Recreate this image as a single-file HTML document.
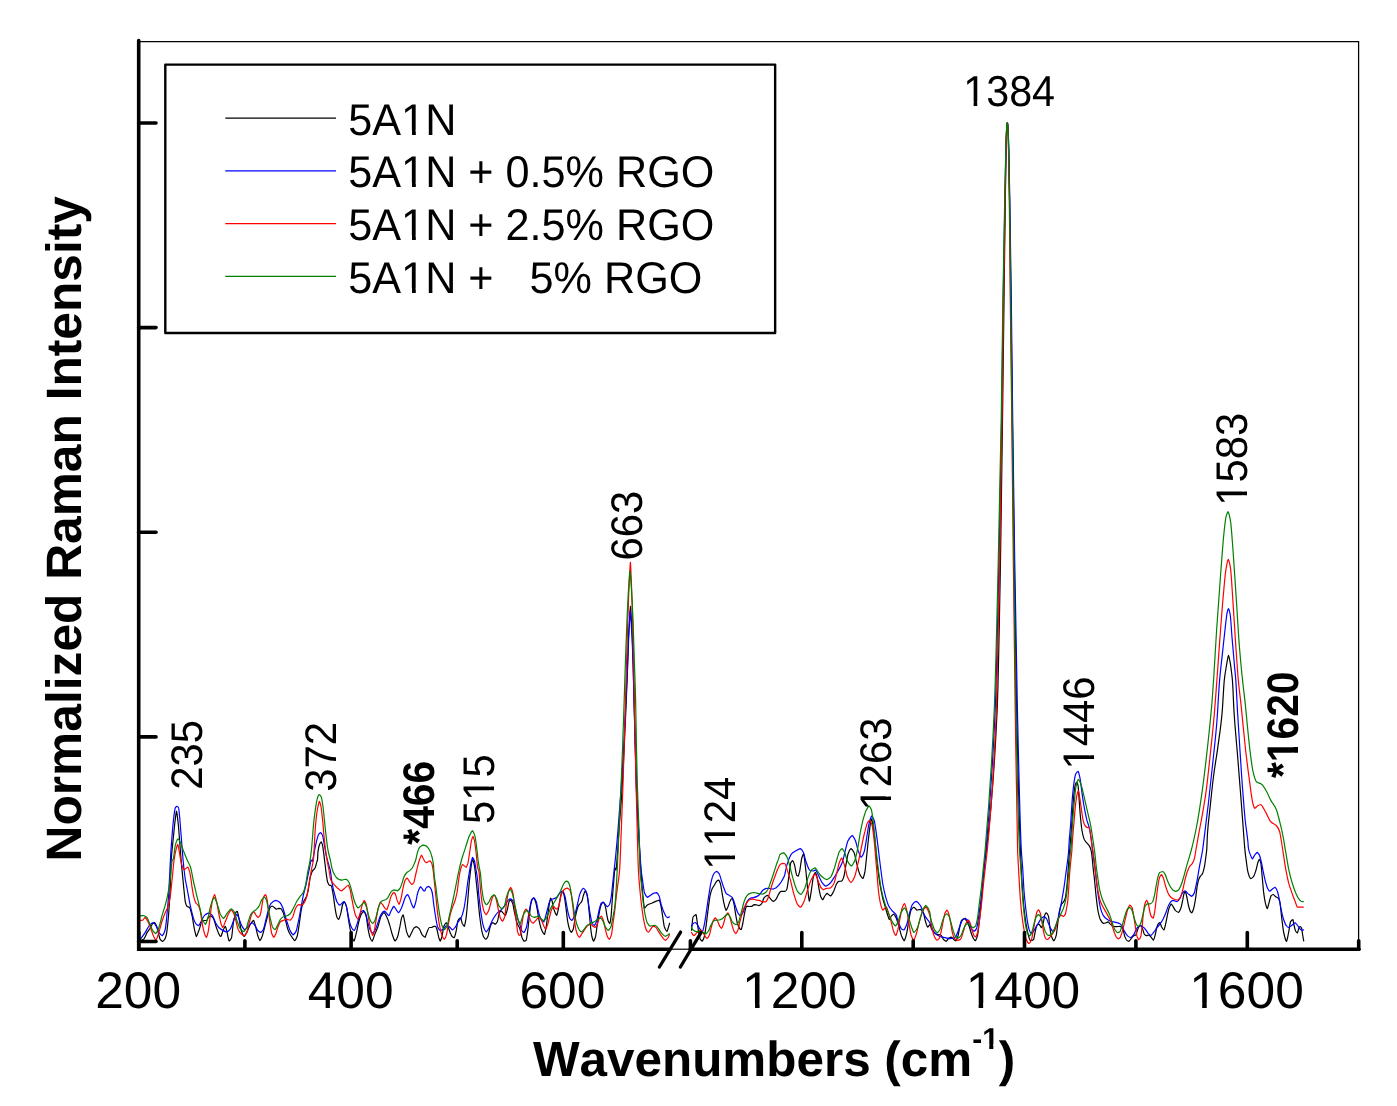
<!DOCTYPE html>
<html><head><meta charset="utf-8"><title>Raman spectra</title><style>html,body{margin:0;padding:0;background:#fff}body{width:1397px;height:1106px;position:relative;overflow:hidden}text{font-kerning:none;text-rendering:geometricPrecision}</style></head><body>
<svg width="1397" height="1106" viewBox="0 0 1397 1106" style="position:absolute;left:0;top:0">
<rect width="1397" height="1106" fill="#fff"/>
<defs><clipPath id="c_leg0"><path clip-rule="evenodd" d="M-3000,-3000H6000V3000H-3000ZM55.29,-4.53H63.70V3.00H55.29ZM67.52,-4.53H75.60V3.00H67.52Z"/></clipPath><clipPath id="c_leg1"><path clip-rule="evenodd" d="M-3000,-3000H6000V3000H-3000ZM55.29,-4.53H63.70V3.00H55.29ZM67.52,-4.53H75.60V3.00H67.52Z"/></clipPath><clipPath id="c_leg2"><path clip-rule="evenodd" d="M-3000,-3000H6000V3000H-3000ZM55.29,-4.53H63.70V3.00H55.29ZM67.52,-4.53H75.60V3.00H67.52Z"/></clipPath><clipPath id="c_leg3"><path clip-rule="evenodd" d="M-3000,-3000H6000V3000H-3000ZM55.29,-4.53H63.70V3.00H55.29ZM67.52,-4.53H75.60V3.00H67.52Z"/></clipPath><clipPath id="c_tick1200"><path clip-rule="evenodd" d="M-3000,-3000H6000V3000H-3000ZM-54.37,-5.15H-44.33V3.00H-54.37ZM-39.78,-5.15H-30.15V3.00H-39.78Z"/></clipPath><clipPath id="c_tick1400"><path clip-rule="evenodd" d="M-3000,-3000H6000V3000H-3000ZM-54.37,-5.15H-44.33V3.00H-54.37ZM-39.78,-5.15H-30.15V3.00H-39.78Z"/></clipPath><clipPath id="c_tick1600"><path clip-rule="evenodd" d="M-3000,-3000H6000V3000H-3000ZM-54.37,-5.15H-44.33V3.00H-54.37ZM-39.78,-5.15H-30.15V3.00H-39.78Z"/></clipPath><clipPath id="c_xtitle"><path clip-rule="evenodd" d="M-3000,-3000H6000V3000H-3000ZM450.54,-31.76H456.24V-24.40H450.54ZM460.35,-31.76H465.67V-24.40H460.35Z"/></clipPath><clipPath id="c_lab515"><path clip-rule="evenodd" d="M-3000,-3000H6000V3000H-3000ZM25.61,-4.42H33.76V3.00H25.61ZM37.45,-4.42H45.27V3.00H37.45Z"/></clipPath><clipPath id="c_lab1124"><path clip-rule="evenodd" d="M-3000,-3000H6000V3000H-3000ZM2.37,-4.42H10.51V3.00H2.37ZM14.21,-4.42H22.02V3.00H14.21ZM25.61,-4.42H33.76V3.00H25.61ZM37.45,-4.42H45.27V3.00H37.45Z"/></clipPath><clipPath id="c_lab1263"><path clip-rule="evenodd" d="M-3000,-3000H6000V3000H-3000ZM2.37,-4.42H10.51V3.00H2.37ZM14.21,-4.42H22.02V3.00H14.21Z"/></clipPath><clipPath id="c_lab1446"><path clip-rule="evenodd" d="M-3000,-3000H6000V3000H-3000ZM2.37,-4.42H10.51V3.00H2.37ZM14.21,-4.42H22.02V3.00H14.21Z"/></clipPath><clipPath id="c_lab1583"><path clip-rule="evenodd" d="M-3000,-3000H6000V3000H-3000ZM2.37,-4.42H10.51V3.00H2.37ZM14.21,-4.42H22.02V3.00H14.21Z"/></clipPath><clipPath id="c_labs1620"><path clip-rule="evenodd" d="M-3000,-3000H6000V3000H-3000ZM18.08,-5.57H26.02V3.00H18.08ZM31.76,-5.57H39.17V3.00H31.76Z"/></clipPath><clipPath id="c_lab1384"><path clip-rule="evenodd" d="M-3000,-3000H6000V3000H-3000ZM2.34,-4.39H10.39V3.00H2.34ZM14.04,-4.39H21.76V3.00H14.04Z"/></clipPath></defs>
<path d="M138.7,41.5H1358.6V949.2" fill="none" stroke="#000" stroke-width="1.25"/>
<g fill="none" stroke-width="1.2" stroke-linejoin="round" stroke-linecap="butt">
<path d="M139.1,940.7C140.6,940.7 142.1,940.1 143.5,939.3C144.8,938.7 146.0,934.4 147.2,932.4C148.2,930.9 149.1,929.9 150.1,928.3C150.9,927.0 151.7,924.7 152.5,923.9C153.2,923.2 153.9,922.7 154.5,922.5C155.2,922.9 155.9,924.3 156.6,925.9C157.1,927.2 157.6,930.4 158.2,932.4C158.9,934.9 159.5,938.4 160.2,939.3C161.0,940.4 161.7,941.1 162.5,941.4C163.2,941.1 164.0,940.4 164.7,939.3C165.2,938.6 165.8,937.1 166.3,934.9C167.0,932.1 167.7,924.6 168.4,917.0C168.9,910.9 169.4,903.1 170.0,892.5C170.4,884.6 170.8,866.3 171.2,860.0C171.9,849.5 172.6,845.7 173.2,838.8C173.8,833.3 174.3,827.0 174.9,822.5C175.4,818.1 176.0,812.5 176.5,811.2C177.0,812.5 177.6,817.7 178.1,822.5C178.7,827.4 179.2,836.1 179.8,842.9C180.3,849.7 180.8,857.1 181.4,863.2C181.9,869.4 182.5,874.4 183.0,880.0C183.3,882.8 183.5,885.9 183.8,888.5C184.4,893.6 184.9,900.2 185.4,902.3C186.0,904.4 186.5,906.0 187.1,906.4C187.9,907.0 188.7,906.8 189.5,907.4C190.3,907.9 191.1,912.0 192.0,915.3C192.8,918.7 193.6,925.6 194.4,929.2C195.1,932.1 195.8,935.6 196.4,936.5C197.4,935.6 198.3,931.6 199.3,929.2C200.4,926.3 201.4,920.8 202.5,920.6C203.9,920.5 205.2,920.5 206.6,920.4C207.3,920.3 208.0,917.3 208.6,917.0C209.5,916.5 210.3,916.2 211.1,916.1C211.8,916.3 212.4,917.0 213.1,917.8C214.2,919.1 215.3,924.7 216.4,927.5C217.5,930.4 218.5,933.8 219.6,935.3C220.0,935.8 220.4,936.3 220.8,936.5C221.7,935.7 222.5,931.7 223.3,930.0C224.0,928.5 224.6,926.7 225.3,926.3C225.9,926.9 226.4,929.6 226.9,931.6C227.6,934.1 228.3,939.6 229.0,940.6C229.1,940.7 229.3,940.9 229.4,941.0C230.1,940.6 230.7,939.7 231.4,938.1C232.1,936.5 232.8,925.5 233.5,921.8C234.0,919.0 234.5,917.1 235.0,915.3C235.4,914.1 235.7,912.4 236.1,912.1C236.5,911.7 236.9,911.5 237.3,911.4C237.9,912.3 238.4,916.1 239.0,918.6C239.8,922.4 240.6,928.4 241.4,930.8C242.3,933.5 243.3,935.8 244.2,936.5C245.2,935.9 246.1,933.4 247.1,931.6C248.2,929.5 249.3,926.0 250.3,924.3C251.4,922.6 252.5,920.8 253.6,920.4C254.3,921.1 255.0,924.4 255.6,926.7C256.4,929.6 257.3,934.2 258.1,936.5C258.7,938.2 259.3,940.1 259.9,940.6C260.7,940.1 261.4,938.3 262.1,936.5C263.1,934.2 264.0,929.4 265.0,925.9C265.9,922.4 266.9,918.8 267.8,915.3C268.5,912.9 269.2,909.0 269.9,908.0C270.6,906.9 271.4,906.2 272.1,906.0C272.9,906.2 273.6,907.0 274.3,907.6C275.0,908.1 275.7,909.0 276.4,909.2C277.2,909.1 278.0,908.5 278.8,908.4C279.5,908.4 280.2,908.5 280.9,908.7C281.5,908.8 282.2,910.6 282.9,912.1C283.7,913.8 284.5,916.6 285.3,919.4C286.1,922.2 287.0,926.9 287.8,929.2C288.6,931.4 289.4,933.0 290.2,934.5C291.0,935.9 291.8,937.0 292.7,938.1C293.3,939.0 294.0,940.4 294.7,940.7C295.5,940.2 296.3,938.7 297.1,936.5C297.8,934.6 298.5,928.6 299.2,924.3C300.0,919.1 300.8,911.4 301.6,908.0C302.4,904.6 303.2,902.4 304.0,900.7C304.9,898.9 305.7,898.5 306.5,896.6C307.0,895.4 307.6,893.3 308.1,890.9C308.8,887.9 309.5,880.8 310.1,877.9C310.8,875.0 311.5,872.6 312.2,871.4C313.1,869.7 314.1,869.9 315.0,868.1C315.6,867.2 316.1,864.2 316.7,862.4C316.9,861.6 317.2,861.4 317.5,860.0C317.6,859.1 317.8,853.0 318.0,851.6C318.5,847.4 319.1,845.5 319.6,844.3C320.2,843.1 320.7,842.1 321.3,841.8C321.7,842.2 322.1,843.5 322.5,845.1C322.9,846.6 323.3,850.3 323.7,853.2C324.1,856.2 324.5,859.6 324.9,863.0C325.2,865.2 325.5,867.8 325.7,870.0C325.8,870.8 325.9,871.6 326.0,872.2C326.6,876.1 327.1,880.4 327.6,882.0C328.2,883.6 328.8,885.0 329.4,885.2C330.0,885.5 330.5,885.4 331.1,885.6C331.8,885.9 332.5,890.6 333.1,894.2C333.8,897.8 334.5,905.1 335.2,908.8C335.8,912.5 336.5,916.6 337.2,917.8C337.7,918.6 338.2,919.2 338.7,919.4C339.4,918.6 340.1,915.5 340.9,912.9C341.5,910.5 342.2,905.2 342.9,903.9C343.4,902.9 344.0,902.1 344.5,901.9C345.2,902.5 345.9,904.7 346.6,907.2C347.2,909.7 347.9,916.2 348.6,920.2C349.3,924.3 350.0,928.6 350.6,931.6C351.3,934.6 352.0,937.4 352.7,938.9C353.1,939.8 353.5,940.7 353.9,941.0C354.7,940.1 355.5,936.3 356.3,933.2C357.3,929.7 358.2,923.4 359.2,920.2C360.0,917.5 360.8,914.9 361.6,913.7C362.4,912.6 363.1,911.7 363.9,911.4C364.6,912.0 365.4,913.8 366.1,916.1C366.8,918.3 367.4,925.6 368.1,929.2C368.8,932.7 369.5,936.6 370.2,938.1C370.8,939.6 371.5,940.8 372.2,941.2C373.0,940.5 373.8,936.9 374.6,934.9C375.7,932.1 376.8,929.8 377.9,926.7C379.0,923.7 380.1,918.1 381.1,916.1C382.1,914.4 383.0,912.9 384.0,912.5C384.9,913.0 385.9,915.0 386.8,917.0C387.8,918.9 388.7,922.0 389.7,925.1C390.5,927.7 391.3,931.7 392.1,934.0C393.1,936.9 394.1,940.2 395.1,941.0C395.9,940.5 396.7,939.1 397.4,937.3C398.2,935.4 399.0,930.4 399.9,926.7C400.5,923.6 401.2,918.6 401.9,917.0C402.3,916.0 402.7,915.2 403.1,914.9C403.7,915.7 404.2,919.3 404.7,921.8C405.4,925.0 406.1,930.4 406.8,932.4C407.6,934.8 408.4,936.7 409.2,937.3C410.0,936.7 410.8,934.0 411.7,932.4C412.5,930.9 413.3,928.6 414.1,927.9C414.9,927.3 415.7,926.9 416.5,926.7C417.5,927.0 418.4,927.7 419.4,928.8C420.3,929.8 421.3,933.7 422.2,934.9C423.2,936.0 424.1,937.0 425.0,937.3C425.6,936.7 426.3,933.9 426.9,932.4C427.7,930.6 428.5,927.5 429.4,927.5C430.0,927.5 430.7,927.5 431.4,927.5C432.2,927.5 433.0,926.3 433.8,926.3C434.4,926.3 434.9,926.3 435.5,926.3C436.0,926.3 436.5,928.3 437.1,930.0C437.6,931.6 438.2,935.6 438.7,937.3C439.2,938.9 439.7,940.5 440.2,941.0C440.8,940.4 441.4,938.5 442.0,936.5C442.6,934.2 443.3,927.5 444.0,925.9C444.7,924.2 445.5,923.0 446.2,922.7C446.8,923.1 447.4,925.2 448.1,926.7C448.7,928.4 449.4,930.8 450.1,932.4C450.8,934.0 451.5,935.9 452.1,936.5C452.8,937.1 453.5,937.6 454.2,937.7C454.9,936.9 455.5,933.8 456.2,930.8C456.8,928.4 457.3,922.3 457.8,921.0C458.4,919.7 458.9,919.0 459.5,918.6C459.9,918.3 460.3,918.0 460.7,917.9C461.2,918.6 461.8,922.4 462.3,923.5C463.0,924.8 463.7,926.0 464.3,926.3C464.9,925.4 465.4,922.1 466.0,918.6C466.5,915.1 467.1,908.2 467.6,902.3C468.1,896.4 468.7,888.4 469.2,882.8C469.8,877.2 470.3,872.0 470.9,868.1C471.3,865.2 471.7,861.9 472.1,860.8C472.3,860.2 472.6,859.7 472.8,859.5C473.4,860.3 473.9,863.3 474.5,866.5C475.1,869.5 475.6,875.4 476.1,880.3C476.7,885.3 477.2,891.2 477.8,896.6C478.4,903.4 479.1,911.5 479.8,917.0C480.5,922.4 481.2,927.8 481.8,930.8C482.5,933.7 483.2,936.2 483.9,937.3C484.5,938.3 485.1,939.1 485.7,939.3C486.5,939.0 487.2,938.0 487.9,936.5C488.6,935.1 489.3,929.6 490.0,927.5C490.7,925.4 491.3,923.2 492.0,922.7C492.6,922.7 493.1,922.9 493.6,923.1C494.2,923.3 494.7,924.1 495.3,924.3C495.9,924.0 496.6,923.1 497.3,921.8C498.0,920.6 498.7,914.2 499.3,912.9C499.9,911.9 500.4,911.1 501.0,910.9C501.6,911.1 502.3,912.2 503.0,912.9C503.8,913.7 504.6,915.0 505.4,915.3C506.1,914.6 506.8,911.4 507.5,908.8C508.0,906.8 508.6,902.4 509.1,901.5C509.6,900.6 510.2,900.1 510.7,899.9C511.4,900.3 512.1,902.0 512.8,903.9C513.4,905.9 514.1,910.7 514.8,913.7C515.6,917.3 516.4,921.2 517.2,923.5C518.2,926.0 519.1,926.5 520.0,929.2C520.6,931.0 521.3,935.6 521.9,937.3C522.6,939.1 523.3,940.7 524.0,941.2C524.6,941.1 525.3,941.0 526.0,940.6C526.5,940.2 527.1,935.3 527.6,931.6C528.2,927.9 528.7,921.6 529.2,917.0C529.8,912.4 530.3,906.3 530.9,903.9C531.4,901.6 532.0,899.5 532.5,899.1C533.0,898.6 533.6,898.3 534.1,898.2C534.7,898.7 535.2,900.5 535.7,902.3C536.3,904.1 536.8,907.5 537.4,910.4C537.9,913.4 538.5,917.6 539.0,920.2C539.7,923.5 540.4,926.4 541.0,928.3C541.7,930.3 542.4,931.8 543.1,932.8C543.5,933.5 544.0,934.3 544.5,934.5C544.9,933.7 545.4,930.9 545.9,928.3C546.5,925.5 547.0,920.9 547.5,917.0C548.1,913.0 548.6,907.9 549.2,904.8C549.6,902.1 550.1,899.0 550.6,898.2C551.0,898.5 551.5,899.4 552.0,900.7C552.4,901.7 552.8,905.6 553.2,907.2C553.8,909.3 554.3,910.8 554.9,912.1C555.5,913.4 556.1,914.9 556.7,915.3C557.1,914.8 557.6,912.5 558.1,910.4C558.7,908.1 559.2,903.5 559.8,900.7C560.3,897.9 560.8,894.4 561.4,893.4C561.9,892.3 562.5,891.6 563.0,891.3C563.5,892.1 564.1,895.3 564.6,898.2C565.2,901.2 565.7,906.4 566.3,910.4C566.8,914.5 567.3,919.8 567.9,922.7C568.4,925.5 569.0,927.8 569.5,929.2C570.1,930.6 570.7,931.9 571.3,932.3C571.9,931.9 572.6,930.8 573.2,929.2C573.7,927.8 574.3,923.1 574.8,920.2C575.3,917.4 575.9,914.3 576.4,912.1C577.0,909.8 577.5,907.5 578.1,906.4C578.7,905.0 579.4,904.4 580.1,903.5C580.6,902.8 581.2,902.5 581.7,901.5C582.3,900.5 582.8,897.4 583.3,895.8C583.9,894.1 584.5,891.8 585.1,891.3C585.8,891.7 586.4,892.6 587.0,894.2C587.4,895.2 587.8,899.0 588.2,902.3C588.6,905.6 589.0,911.0 589.5,915.3C589.9,919.7 590.3,925.0 590.7,928.3C591.1,931.7 591.5,934.8 591.9,936.5C592.4,938.7 593.0,940.7 593.5,941.2C594.2,940.7 594.9,938.9 595.6,936.5C596.1,934.6 596.6,928.6 597.2,925.1C597.7,921.6 598.3,918.3 598.8,915.3C599.4,912.4 599.9,909.0 600.4,907.2C601.0,905.4 601.5,903.6 602.1,903.1C602.6,902.7 603.1,902.4 603.7,902.3C604.2,902.8 604.8,904.5 605.3,906.4C605.9,908.2 606.4,912.6 606.9,915.3C607.4,917.4 607.8,920.1 608.2,921.0C608.7,922.3 609.3,923.2 609.8,923.5C610.2,922.7 610.6,920.1 611.0,917.0C611.4,913.9 611.8,906.1 612.2,900.7C612.6,895.3 613.0,889.2 613.5,884.4C614.0,878.3 614.5,870.0 615.0,868.1C615.3,868.4 615.7,869.8 616.0,870.0C617.0,865.3 618.0,843.4 619.0,830.0C620.0,816.7 621.0,806.0 622.0,790.0C622.8,777.7 623.5,761.1 624.3,745.0C625.0,731.0 625.6,715.8 626.3,700.0C626.8,688.9 627.2,677.4 627.7,665.0C628.0,656.2 628.4,644.5 628.7,637.0C629.0,630.3 629.3,625.0 629.6,620.0C629.9,615.0 630.2,608.0 630.5,606.4C630.8,608.0 631.1,615.0 631.4,620.0C631.7,625.0 632.0,629.9 632.3,637.0C632.6,644.1 632.9,654.1 633.2,665.0C633.5,674.7 633.7,689.2 634.0,700.0C634.4,716.2 634.8,730.6 635.2,745.0C635.6,760.6 636.1,778.8 636.5,790.0C637.2,807.2 637.8,817.6 638.5,830.0C639.3,844.3 640.0,859.0 640.8,870.0C641.3,877.8 641.9,884.7 642.4,890.3C643.1,897.4 643.8,906.2 644.5,908.2C645.4,907.9 646.4,905.6 647.3,905.0C648.9,904.0 650.6,903.6 652.2,903.0C653.8,902.3 655.4,901.5 657.1,900.9C657.8,900.6 658.6,900.2 659.4,900.1C659.9,900.9 660.5,903.8 661.1,906.6C661.7,909.2 662.2,913.8 662.8,917.2C663.3,920.6 663.9,925.4 664.4,927.0C665.3,929.4 666.1,930.9 667.0,931.4C667.5,930.9 668.0,928.5 668.5,927.0C668.9,925.7 669.3,924.3 669.7,922.9" stroke="#000000"/>
<path d="M691.5,930.8C692.1,924.7 692.6,917.9 693.1,917.0C694.1,915.4 695.0,914.8 696.0,914.5C696.4,915.4 696.8,919.2 697.2,921.8C697.7,925.3 698.3,930.5 698.8,933.2C699.4,936.0 699.9,939.0 700.5,939.7C701.1,940.6 701.7,941.0 702.2,941.2C702.9,940.7 703.5,939.2 704.1,937.3C704.8,935.2 705.5,929.7 706.2,925.1C706.8,920.4 707.5,913.8 708.2,908.8C708.9,903.8 709.5,898.1 710.2,895.0C710.8,892.5 711.3,890.5 711.9,889.3C712.7,887.4 713.5,886.6 714.3,885.2C715.1,883.9 715.9,881.8 716.7,881.2C717.4,880.7 718.1,880.3 718.8,880.2C719.3,880.6 719.9,881.9 720.4,883.6C720.9,885.2 721.5,889.5 722.0,892.5C722.7,896.3 723.4,901.2 724.1,903.9C724.7,906.7 725.4,909.5 726.1,910.3C726.8,909.8 727.4,907.9 728.1,906.4C728.8,904.8 729.5,901.8 730.2,900.7C730.8,899.5 731.5,898.5 732.2,898.2C732.7,898.8 733.3,901.0 733.8,903.1C734.4,905.3 734.9,909.9 735.4,912.9C736.1,916.7 736.8,921.5 737.5,923.5C738.4,926.3 739.4,928.5 740.3,929.2C740.6,929.4 740.9,929.5 741.1,929.6C741.7,928.9 742.2,925.9 742.8,923.5C743.4,920.4 744.1,915.0 744.8,912.1C745.3,909.8 745.9,907.0 746.4,906.4C747.4,906.4 748.3,906.5 749.3,906.5C750.1,906.5 750.9,906.5 751.7,906.4C752.5,906.3 753.3,904.8 754.2,904.6C755.0,904.6 755.8,904.7 756.6,904.8C757.4,904.8 758.2,905.5 759.0,905.6C759.9,905.4 760.7,904.8 761.5,903.9C762.3,903.1 763.1,899.4 763.9,898.2C764.7,897.1 765.6,896.2 766.4,895.8C766.8,895.6 767.2,895.4 767.6,895.4C768.4,895.7 769.2,897.4 770.0,898.2C771.1,899.4 772.2,901.0 773.3,901.3C774.2,901.1 775.2,900.2 776.1,899.1C776.9,898.1 777.8,895.4 778.6,894.2C779.4,893.0 780.2,891.3 781.0,891.3C782.3,891.3 783.7,891.3 785.0,891.3C785.5,891.3 786.1,890.7 786.6,889.8C787.4,888.7 788.1,881.4 788.8,876.8C789.5,872.2 790.3,863.6 791.0,862.3C791.6,861.4 792.1,860.8 792.7,860.6C793.3,861.1 794.0,863.2 794.6,865.2C795.3,867.5 796.0,874.7 796.8,875.4C797.2,875.8 797.7,876.0 798.2,876.1C798.7,875.5 799.2,873.1 799.7,871.0C800.4,867.9 801.1,860.5 801.8,858.0C802.4,856.0 803.0,854.2 803.6,853.7C804.2,855.2 804.8,861.5 805.4,866.7C806.1,871.8 806.7,880.0 807.3,885.5C808.0,891.4 808.7,899.3 809.3,901.1C810.0,900.0 810.6,894.9 811.2,891.3C812.0,887.0 812.7,879.3 813.4,876.8C814.0,874.7 814.7,873.0 815.3,872.5C815.9,873.0 816.4,874.8 817.0,876.8C817.7,879.3 818.5,886.3 819.2,889.8C819.8,892.6 820.3,895.8 820.9,897.1C821.5,898.4 822.2,899.4 822.8,899.7C823.5,899.2 824.2,896.5 825.0,895.6C825.7,894.7 826.4,893.7 827.1,893.4C827.9,893.7 828.6,894.9 829.3,895.3C829.8,895.6 830.3,895.8 830.8,895.9C831.7,895.4 832.7,893.1 833.7,891.3C834.6,889.4 835.6,885.6 836.5,884.0C837.3,882.9 838.0,881.6 838.7,881.4C839.7,881.2 840.6,881.3 841.6,881.1C842.3,881.0 843.1,878.9 843.8,876.8C844.5,874.7 845.2,869.1 845.9,865.2C846.7,861.4 847.4,855.6 848.1,853.7C849.1,851.0 850.0,849.2 851.0,848.6C852.0,849.0 852.9,850.4 853.9,852.2C854.9,854.0 855.8,860.2 856.8,863.8C857.8,867.4 858.7,871.9 859.7,873.9C860.8,876.1 861.8,878.0 862.9,878.5C863.5,877.8 864.1,875.4 864.8,872.5C865.5,869.1 866.2,860.2 866.9,853.7C867.6,847.2 868.4,839.2 869.1,833.4C869.7,828.8 870.3,823.1 870.8,821.1C871.1,820.1 871.4,819.2 871.7,818.9C872.5,820.6 873.3,827.4 874.2,833.4C875.1,840.5 876.1,854.1 877.1,862.3C878.0,870.6 879.0,878.2 879.9,884.0C880.9,889.8 881.9,894.5 882.8,898.5C883.8,902.5 884.8,905.3 885.7,908.6C886.5,911.1 887.2,913.8 887.9,915.9C888.4,917.2 888.9,919.1 889.3,919.5C890.1,919.1 890.8,916.6 891.5,915.9C892.2,915.1 893.0,914.3 893.7,914.1C894.4,914.5 895.1,915.9 895.9,917.3C896.8,919.2 897.8,922.9 898.8,926.0C899.7,929.1 900.7,933.9 901.6,936.1C902.5,938.1 903.4,940.2 904.2,940.7C905.1,939.9 905.9,936.6 906.7,933.2C907.4,930.3 908.2,924.0 908.9,920.2C909.6,916.4 910.3,911.3 911.0,910.1C912.0,908.4 913.0,907.5 913.9,907.2C914.9,907.5 915.9,909.7 916.8,910.1C918.0,910.0 919.2,909.4 920.5,909.3C921.4,909.8 922.4,911.1 923.3,913.0C924.1,914.4 924.8,919.4 925.5,921.6C926.2,923.9 927.0,926.5 927.7,927.1C928.5,926.8 929.2,924.8 930.0,924.5C930.6,925.1 931.2,928.6 931.7,929.5C933.3,931.9 934.8,933.6 936.3,934.1C937.8,934.6 939.3,934.4 940.8,935.0C941.7,935.3 942.6,938.6 943.5,939.5C944.4,940.3 945.3,941.1 946.2,941.3C947.1,940.9 948.0,938.7 948.9,938.1C949.7,937.7 950.4,937.3 951.2,937.2C951.9,937.4 952.7,938.4 953.4,939.0C954.2,939.6 954.9,940.6 955.7,940.8C956.5,940.3 957.2,938.2 958.0,935.9C958.6,934.0 959.2,929.3 959.8,926.8C960.4,924.3 961.0,921.2 961.6,920.5C962.5,919.4 963.4,918.9 964.3,918.7C965.2,919.0 966.1,920.1 967.0,921.4C967.8,922.5 968.5,924.8 969.3,926.8C970.0,928.9 970.8,932.1 971.5,934.1C972.3,936.0 973.0,937.9 973.8,939.0C974.3,939.8 974.8,940.6 975.3,940.8C976.0,940.3 976.7,938.4 977.4,935.9C978.0,933.7 978.6,927.4 979.2,922.3C980.0,915.9 980.7,908.1 981.5,899.7C982.1,893.0 982.7,883.8 983.3,877.1C983.9,870.4 984.5,863.8 985.1,859.0C985.5,855.5 986.0,853.7 986.4,850.0C990.0,820.7 993.6,789.7 997.2,709.0C998.3,684.3 999.4,621.5 1000.5,560.0C1001.2,522.7 1001.8,470.8 1002.5,420.0C1003.0,383.2 1003.5,337.8 1004.0,300.0C1004.4,264.8 1004.9,229.3 1005.3,200.0C1005.6,181.6 1005.9,162.5 1006.1,150.0C1006.3,141.9 1006.5,133.1 1006.7,130.0C1006.9,126.1 1007.2,123.4 1007.4,122.5C1007.6,123.4 1007.9,126.2 1008.1,130.0C1008.3,133.3 1008.5,141.8 1008.7,150.0C1009.0,162.3 1009.3,180.8 1009.6,200.0C1010.0,227.7 1010.5,266.0 1010.9,300.0C1011.4,339.2 1011.9,380.5 1012.4,420.0C1013.0,467.3 1013.6,518.3 1014.2,560.0C1015.0,615.5 1015.8,671.1 1016.6,709.0C1017.9,769.0 1019.1,818.5 1020.4,850.0C1020.8,861.2 1021.3,869.3 1021.7,877.1C1022.4,887.5 1023.0,897.9 1023.6,904.2C1024.3,912.2 1025.1,917.6 1025.8,922.3C1026.6,927.1 1027.3,931.3 1028.1,934.1C1028.8,936.8 1029.6,940.4 1030.3,940.4C1030.9,940.4 1031.5,940.4 1032.1,940.4C1032.6,940.4 1033.0,940.0 1033.5,939.5C1034.1,938.8 1034.7,933.7 1035.3,931.3C1035.9,929.0 1036.5,925.5 1037.1,925.0C1037.7,924.5 1038.3,924.2 1038.9,924.1C1039.8,924.5 1040.7,927.3 1041.6,927.7C1042.2,927.1 1042.8,924.7 1043.4,922.3C1043.9,920.5 1044.3,916.2 1044.8,915.1C1045.2,913.9 1045.7,913.1 1046.2,912.8C1046.9,913.2 1047.7,914.1 1048.4,916.0C1048.9,917.1 1049.3,923.9 1049.8,926.8C1050.4,930.8 1051.0,935.1 1051.6,936.8C1052.3,938.8 1053.1,940.4 1053.8,940.8C1054.6,940.3 1055.3,938.5 1056.1,935.9C1056.7,933.8 1057.3,926.7 1057.9,922.3C1058.5,917.9 1059.1,912.2 1059.7,909.7C1060.3,907.1 1060.9,905.2 1061.5,904.2C1062.1,903.3 1062.7,903.1 1063.3,902.2C1063.9,901.4 1064.5,900.6 1065.1,898.8C1065.7,897.0 1066.3,891.8 1066.9,886.2C1067.4,881.9 1067.8,874.1 1068.3,868.1C1068.7,862.1 1069.2,855.6 1069.7,850.0C1070.2,843.7 1070.7,839.0 1071.2,832.3C1071.7,825.7 1072.2,816.6 1072.7,809.7C1073.2,803.2 1073.7,795.4 1074.2,791.6C1074.6,788.4 1075.0,785.6 1075.4,784.4C1075.8,783.3 1076.2,782.4 1076.6,782.2C1077.1,782.5 1077.5,783.5 1078.0,785.3C1078.3,786.5 1078.6,792.4 1078.9,796.2C1079.3,801.9 1079.8,809.3 1080.2,814.2C1080.8,820.8 1081.4,827.1 1082.0,830.5C1082.8,834.8 1083.6,838.0 1084.3,839.6C1085.2,841.4 1086.1,842.0 1087.0,843.2C1087.8,844.1 1088.5,844.7 1089.3,845.9C1089.9,846.9 1090.5,848.1 1091.1,850.4C1091.5,852.1 1092.0,855.5 1092.4,860.0C1092.5,860.9 1092.6,862.6 1092.7,863.6C1093.3,870.5 1093.9,874.1 1094.5,879.8C1095.1,885.5 1095.7,892.7 1096.3,897.9C1096.9,903.1 1097.5,908.5 1098.1,911.5C1098.9,915.2 1099.6,918.2 1100.4,919.6C1101.4,921.5 1102.5,922.9 1103.5,923.4C1104.3,923.3 1105.1,923.0 1105.8,922.8C1106.6,922.5 1107.3,922.0 1108.1,921.9C1108.8,922.1 1109.6,923.4 1110.3,924.1C1111.2,924.9 1112.1,926.2 1113.0,926.4C1114.2,926.5 1115.4,926.6 1116.7,926.6C1117.8,926.6 1118.9,926.4 1120.0,926.4C1120.9,926.6 1121.8,927.4 1122.7,928.6C1123.4,929.7 1124.2,935.0 1124.9,936.8C1125.7,938.6 1126.4,940.5 1127.2,940.8C1127.8,941.1 1128.4,941.2 1129.0,941.3C1129.7,941.0 1130.5,939.5 1131.2,938.6C1132.0,937.7 1132.7,936.3 1133.5,935.9C1134.3,935.4 1135.0,935.5 1135.8,935.0C1136.2,934.6 1136.7,932.5 1137.1,931.3C1137.7,929.8 1138.3,927.4 1138.9,926.8C1139.7,926.1 1140.4,925.6 1141.2,925.5C1141.6,925.8 1142.1,927.5 1142.5,928.6C1143.1,930.2 1143.7,933.3 1144.3,934.1C1145.1,935.0 1145.9,935.5 1146.6,935.7C1147.4,935.6 1148.1,935.0 1148.9,935.0C1149.6,935.2 1150.4,936.4 1151.1,937.2C1151.9,938.1 1152.6,939.9 1153.4,940.2C1154.0,939.6 1154.6,937.1 1155.2,935.0C1155.8,932.8 1156.4,928.5 1157.0,926.8C1157.6,925.2 1158.2,923.8 1158.8,923.2C1159.2,922.9 1159.5,922.6 1159.9,922.5C1160.4,923.0 1161.0,925.9 1161.5,926.8C1162.3,928.3 1163.1,929.6 1164.0,930.0C1164.5,929.3 1165.0,926.4 1165.6,924.1C1166.2,921.6 1166.8,917.8 1167.4,915.1C1168.0,912.4 1168.6,909.4 1169.2,907.8C1169.9,906.1 1170.6,904.5 1171.3,904.0C1171.9,904.4 1172.6,905.9 1173.3,906.9C1174.0,908.1 1174.8,909.9 1175.5,910.6C1176.6,911.5 1177.6,912.2 1178.7,912.4C1179.4,911.8 1180.2,910.0 1181.0,907.8C1181.6,906.2 1182.2,902.5 1182.8,899.7C1183.2,897.6 1183.7,894.2 1184.1,893.4C1184.6,892.5 1185.0,891.9 1185.5,891.8C1185.9,892.4 1186.4,895.0 1186.8,897.0C1187.4,899.6 1188.0,903.8 1188.6,906.0C1189.2,908.3 1189.8,910.6 1190.4,911.5C1190.9,912.1 1191.3,912.7 1191.8,912.8C1192.4,912.3 1193.0,910.6 1193.6,908.7C1194.2,906.9 1194.8,903.3 1195.4,899.7C1196.0,896.1 1196.6,889.6 1197.2,886.2C1197.7,883.6 1198.1,881.1 1198.6,879.8C1199.2,878.1 1199.8,877.1 1200.4,876.2C1201.1,875.1 1201.9,874.9 1202.6,873.5C1203.2,872.4 1203.8,869.3 1204.5,866.3C1204.9,864.0 1205.4,860.5 1205.8,857.2C1206.1,855.0 1206.4,853.5 1206.7,850.0C1207.0,846.9 1207.2,837.0 1207.5,833.2C1208.4,820.7 1209.2,815.6 1210.1,807.4C1211.2,796.6 1212.4,785.4 1213.5,776.5C1214.9,765.3 1216.4,757.8 1217.8,747.3C1219.2,736.8 1220.7,728.4 1222.1,713.0C1222.8,705.1 1223.6,686.7 1224.3,680.0C1225.0,673.6 1225.7,670.0 1226.4,666.0C1227.1,662.0 1227.8,656.7 1228.5,655.5C1229.2,656.5 1229.8,660.5 1230.5,664.4C1230.8,666.3 1231.2,669.3 1231.5,672.0C1231.8,674.5 1232.1,676.5 1232.4,680.0C1233.0,686.7 1233.5,704.3 1234.1,713.0C1235.3,731.0 1236.4,741.4 1237.6,755.9C1238.7,770.0 1239.9,784.1 1241.0,798.8C1241.9,810.0 1242.7,821.9 1243.6,833.2C1244.0,838.8 1244.5,845.7 1244.9,849.9C1245.4,854.9 1245.9,858.3 1246.4,861.9C1246.9,865.5 1247.4,870.0 1247.9,871.8C1248.8,875.3 1249.7,877.8 1250.7,878.6C1251.6,878.4 1252.4,877.7 1253.3,876.8C1254.2,875.9 1255.0,873.3 1255.8,870.8C1256.5,868.8 1257.2,864.8 1257.8,862.9C1258.3,861.4 1258.8,859.8 1259.3,859.4C1259.8,859.8 1260.3,861.0 1260.8,862.9C1261.3,864.8 1261.8,872.7 1262.3,877.8C1262.8,882.9 1263.3,889.9 1263.8,893.7C1264.3,897.5 1264.8,900.6 1265.3,902.7C1265.9,905.4 1266.6,907.9 1267.3,908.6C1267.9,907.8 1268.6,903.8 1269.3,901.7C1269.9,899.5 1270.6,896.4 1271.2,895.7C1271.9,895.0 1272.6,894.6 1273.2,894.5C1274.1,894.8 1274.9,896.1 1275.7,896.7C1276.5,897.3 1277.4,897.3 1278.2,898.2C1278.7,898.7 1279.2,899.9 1279.7,901.7C1280.4,904.0 1281.0,912.4 1281.7,917.6C1282.4,922.7 1283.0,929.4 1283.7,932.5C1284.6,936.8 1285.5,940.4 1286.5,941.4C1287.2,940.4 1287.9,935.9 1288.6,932.5C1289.3,929.4 1290.0,922.6 1290.6,921.6C1291.4,920.4 1292.2,919.8 1292.9,919.6C1293.3,920.3 1293.7,923.8 1294.1,925.5C1294.6,927.6 1295.1,930.1 1295.6,931.0C1296.2,932.0 1296.8,932.8 1297.4,933.0C1298.0,932.4 1298.5,928.3 1299.1,927.5C1299.4,927.0 1299.8,926.6 1300.1,926.5C1300.6,926.7 1301.1,927.1 1301.6,928.0C1301.9,928.6 1302.2,932.4 1302.6,934.5C1303.0,936.9 1303.4,939.3 1303.8,941.4" stroke="#000000"/>
<path d="M139.1,940.6C141.0,938.5 142.9,936.0 144.8,933.2C146.4,930.9 148.0,926.7 149.6,925.1C150.9,923.9 152.1,922.8 153.3,922.5C154.5,923.1 155.7,925.4 157.0,927.5C157.8,929.0 158.6,932.2 159.4,933.2C160.4,934.4 161.3,935.4 162.3,935.7C163.2,935.0 164.2,933.2 165.1,930.0C165.8,927.7 166.5,919.8 167.1,912.9C167.7,907.4 168.2,900.9 168.8,892.5C169.3,884.2 169.9,869.5 170.4,860.0C170.7,855.2 170.9,850.8 171.2,847.0C171.9,837.5 172.6,828.6 173.2,822.5C173.9,816.4 174.6,809.2 175.3,807.9C175.7,807.0 176.2,806.5 176.7,806.3C177.3,806.4 177.9,806.7 178.5,807.5C178.9,808.0 179.3,814.3 179.8,818.5C180.3,824.1 180.8,832.0 181.4,838.8C181.9,845.6 182.5,853.6 183.0,859.2C183.8,867.5 184.6,874.8 185.4,880.0C186.0,883.4 186.5,885.6 187.1,888.5C188.2,894.2 189.2,900.6 190.3,905.6C191.4,910.5 192.5,915.6 193.6,918.6C194.4,920.8 195.2,923.0 196.0,923.9C196.8,924.8 197.7,925.5 198.5,925.7C199.6,925.1 200.6,922.0 201.7,920.2C202.8,918.4 203.9,915.8 205.0,914.9C206.2,914.0 207.4,913.3 208.6,913.1C209.9,913.3 211.1,914.1 212.3,915.3C213.4,916.4 214.5,920.7 215.6,922.7C216.6,924.6 217.7,926.5 218.8,927.5C220.2,928.8 221.5,929.7 222.9,930.4C224.2,931.1 225.6,931.8 226.9,932.0C228.0,931.7 229.1,930.6 230.2,929.2C231.0,928.1 231.8,925.5 232.6,923.5C233.4,921.5 234.2,918.4 235.0,917.0C235.6,915.8 236.3,914.7 236.9,914.4C237.6,914.8 238.3,917.0 239.0,918.6C239.8,920.5 240.6,923.5 241.4,925.1C242.5,927.2 243.6,929.3 244.6,929.8C245.7,929.5 246.8,927.7 247.9,926.7C249.4,925.3 250.9,923.1 252.4,922.7C253.3,923.0 254.3,924.6 255.2,925.9C256.2,927.2 257.1,929.9 258.1,930.8C259.0,931.6 259.9,932.2 260.8,932.4C261.6,932.0 262.5,930.8 263.4,929.2C264.2,927.6 265.0,923.3 265.8,920.2C266.6,917.1 267.4,913.1 268.2,910.4C269.1,907.8 269.9,905.0 270.7,903.9C272.3,901.9 273.9,900.7 275.6,900.3C276.9,900.5 278.3,901.2 279.6,902.3C280.7,903.2 281.8,905.5 282.9,908.0C283.7,909.9 284.5,913.4 285.3,916.1C286.1,918.9 287.0,921.9 287.8,924.3C288.6,926.7 289.4,929.3 290.2,930.8C291.2,932.6 292.1,934.4 293.1,934.9C294.0,934.5 295.0,933.3 295.9,931.6C296.7,930.1 297.5,925.6 298.3,921.8C299.2,918.1 300.0,913.2 300.8,908.8C301.6,904.5 302.4,899.5 303.2,895.8C304.0,892.1 304.9,889.5 305.7,886.0C306.5,882.5 307.3,878.5 308.1,874.6C308.8,871.4 309.5,868.6 310.1,864.9C310.4,863.4 310.7,860.6 311.0,860.0C311.4,860.2 311.9,861.2 312.3,861.4C313.1,859.9 313.9,852.9 314.8,849.2C315.6,845.4 316.4,841.3 317.2,838.6C317.7,836.8 318.3,834.7 318.8,834.1C319.5,833.4 320.2,832.9 320.9,832.7C321.4,833.0 321.9,834.0 322.5,835.3C323.0,836.6 323.6,840.6 324.1,843.5C324.8,847.0 325.5,851.7 326.1,854.9C326.8,858.0 327.5,860.5 328.2,863.0C328.9,865.5 329.5,866.9 330.2,870.0C330.9,873.2 331.6,880.7 332.3,884.4C333.1,888.7 334.0,892.1 334.8,895.0C335.6,897.9 336.4,900.9 337.2,902.3C338.0,903.7 338.8,904.8 339.6,905.2C340.5,904.9 341.3,903.8 342.1,903.1C342.8,902.6 343.4,901.8 344.1,901.7C344.8,902.1 345.5,903.7 346.2,905.6C346.8,907.4 347.5,912.2 348.2,915.3C348.9,918.4 349.5,922.3 350.2,924.3C350.9,926.3 351.6,928.0 352.3,928.8C352.9,929.6 353.6,930.2 354.3,930.4C355.1,929.8 355.9,927.2 356.7,925.1C357.5,923.0 358.4,919.2 359.2,917.0C360.0,914.7 360.8,911.7 361.6,911.3C362.3,910.9 363.0,910.7 363.6,910.6C364.3,911.0 365.0,912.2 365.7,913.7C366.4,915.2 367.0,919.4 367.7,921.8C368.5,924.8 369.3,928.6 370.2,930.0C371.1,931.6 372.1,932.9 373.0,933.2C373.8,932.8 374.6,930.8 375.4,929.2C376.3,927.5 377.1,924.8 377.9,922.7C378.7,920.5 379.5,917.9 380.3,916.1C381.0,914.7 381.7,913.2 382.4,912.5C383.0,911.8 383.7,911.3 384.4,911.1C385.1,911.3 385.8,912.2 386.4,912.9C387.2,913.7 388.1,915.4 388.9,915.7C389.6,915.2 390.2,912.6 390.9,911.3C391.9,909.4 392.8,906.9 393.8,906.4C394.6,906.8 395.4,908.6 396.2,909.6C397.0,910.7 397.8,912.4 398.6,912.7C399.5,912.3 400.3,910.4 401.1,908.8C401.9,907.2 402.7,904.5 403.5,902.3C404.2,900.5 404.9,897.6 405.6,896.6C406.2,895.6 406.9,894.8 407.6,894.6C408.3,895.0 408.9,896.7 409.6,898.2C410.3,899.8 411.0,902.8 411.7,904.3C412.3,905.9 413.0,907.6 413.7,908.0C414.4,907.3 415.0,904.7 415.7,902.3C416.4,899.9 417.1,894.5 417.8,892.5C418.7,889.8 419.7,887.4 420.6,886.7C421.3,887.0 422.0,888.4 422.6,889.3C423.0,889.8 423.5,890.7 423.9,890.9C424.2,890.9 424.6,890.9 425.0,890.8C425.2,890.7 425.5,888.8 425.7,888.5C426.6,887.2 427.6,886.7 428.5,886.4C429.2,886.6 429.9,887.2 430.6,888.1C431.1,888.8 431.7,890.4 432.2,892.5C432.7,894.7 433.3,900.9 433.8,904.8C434.5,909.6 435.2,915.0 435.9,918.6C436.5,922.2 437.2,926.1 437.9,927.5C438.7,929.2 439.5,930.4 440.3,930.8C441.4,930.6 442.5,929.6 443.6,928.8C444.4,928.1 445.2,926.5 446.0,926.1C446.6,925.8 447.1,925.6 447.7,925.5C448.5,925.7 449.3,926.8 450.1,927.5C450.9,928.3 451.7,929.7 452.5,930.0C453.4,929.7 454.2,928.6 455.0,927.5C456.1,926.2 457.2,923.6 458.2,921.8C459.3,920.1 460.4,919.2 461.5,917.0C462.3,915.2 463.1,912.4 463.9,908.8C464.6,905.8 465.3,900.5 466.0,895.8C466.7,891.1 467.3,884.9 468.0,880.3C468.7,875.8 469.4,871.8 470.0,868.1C470.6,865.2 471.1,861.9 471.7,860.0C472.0,858.9 472.3,857.7 472.6,857.4C473.2,857.8 473.8,859.1 474.4,860.8C474.9,862.3 475.5,866.6 476.0,869.7C476.6,872.9 477.1,875.4 477.6,880.0C478.1,883.8 478.5,892.2 479.0,896.6C479.7,903.3 480.3,908.2 481.0,912.9C481.7,917.5 482.4,922.9 483.1,925.1C484.1,928.6 485.2,931.2 486.3,932.0C487.3,931.5 488.2,929.3 489.2,927.5C490.1,925.8 491.1,922.9 492.0,921.0C493.0,919.2 493.9,917.5 494.9,916.1C495.9,914.6 497.0,913.1 498.1,912.1C499.2,911.1 500.3,910.6 501.4,909.6C502.3,908.8 503.3,907.7 504.2,906.4C504.9,905.5 505.6,904.2 506.2,903.1C506.9,902.0 507.6,900.3 508.3,899.9C509.1,899.3 509.9,899.0 510.7,898.9C511.5,899.2 512.4,900.2 513.2,901.5C513.8,902.6 514.5,905.5 515.2,908.0C516.0,911.0 516.8,915.8 517.6,918.6C518.4,921.2 519.2,922.8 520.0,925.1C520.6,926.9 521.3,930.0 521.9,930.8C522.6,931.6 523.3,932.2 524.0,932.4C524.8,931.8 525.6,930.0 526.4,927.5C527.1,925.5 527.7,920.1 528.4,916.1C529.0,913.0 529.5,909.0 530.1,906.4C530.6,903.8 531.1,900.8 531.7,899.9C532.4,898.8 533.0,898.1 533.7,897.8C534.5,898.3 535.3,899.6 536.2,901.5C536.7,902.8 537.2,906.5 537.8,908.8C538.3,911.1 538.9,913.8 539.4,915.3C540.1,917.3 540.8,919.0 541.4,919.8C542.3,920.8 543.1,921.6 543.9,921.8C544.6,921.1 545.2,917.7 545.9,915.3C546.6,912.9 547.3,909.7 548.0,907.2C548.5,905.2 549.0,902.5 549.6,901.5C550.1,900.5 550.7,899.7 551.2,899.5C552.2,899.0 553.1,899.0 554.1,898.6C554.9,898.4 555.7,898.1 556.5,897.6C557.3,897.1 558.1,895.2 558.9,894.2C559.6,893.3 560.3,892.0 561.0,891.7C561.5,891.5 562.1,891.4 562.6,891.3C563.3,891.8 564.0,893.2 564.6,895.0C565.3,896.8 566.0,902.1 566.7,905.6C567.2,908.3 567.8,911.7 568.3,913.7C568.8,915.7 569.4,917.8 569.9,918.6C570.5,919.5 571.2,920.2 571.8,920.4C572.5,920.0 573.3,918.5 574.0,917.0C574.7,915.5 575.3,913.0 576.0,910.4C576.7,907.9 577.4,904.3 578.1,901.5C578.7,898.7 579.4,894.9 580.1,893.4C581.2,890.9 582.3,888.9 583.3,888.3C584.2,888.6 585.0,889.5 585.8,890.9C586.3,891.8 586.9,894.1 587.4,896.6C588.0,899.1 588.5,903.8 589.0,907.2C589.6,910.6 590.1,914.4 590.7,917.0C591.2,919.6 591.8,922.6 592.3,923.5C593.0,924.6 593.7,925.3 594.3,925.5C595.0,925.1 595.7,923.5 596.4,921.8C596.9,920.5 597.5,917.6 598.0,915.3C598.5,913.0 599.1,910.0 599.6,908.0C600.2,906.1 600.7,903.7 601.2,903.1C601.8,902.6 602.3,902.3 602.9,902.1C603.6,902.4 604.2,903.3 604.9,903.9C605.7,904.8 606.5,906.5 607.4,906.8C608.0,906.5 608.7,905.9 609.4,904.8C609.9,903.9 610.5,901.2 611.0,898.2C611.6,895.3 612.1,889.4 612.6,884.4C613.0,880.7 613.5,876.0 613.9,872.2C614.2,868.7 614.6,866.0 615.0,862.4C616.0,853.0 617.0,841.9 618.0,830.0C619.0,818.1 620.0,804.6 621.0,790.0C621.9,776.4 622.9,761.9 623.8,745.0C624.5,731.7 625.3,716.1 626.0,700.0C626.5,689.1 627.0,677.8 627.5,665.0C627.8,656.5 628.2,643.9 628.5,637.0C628.8,630.8 629.1,626.6 629.4,622.0C629.7,617.9 629.9,612.1 630.2,610.8C630.5,612.1 630.8,617.7 631.1,622.0C631.4,626.3 631.7,631.0 632.0,637.0C632.4,644.3 632.7,653.6 633.1,665.0C633.4,674.3 633.7,689.0 634.0,700.0C634.4,715.9 634.9,729.4 635.3,745.0C635.7,759.4 636.1,779.6 636.5,790.0C637.2,808.2 637.9,818.0 638.6,830.0C639.5,844.8 640.3,861.5 641.2,870.0C641.7,875.3 642.3,878.4 642.8,882.2C643.4,886.0 643.9,891.3 644.5,892.8C645.4,895.3 646.4,896.7 647.3,897.3C648.4,897.0 649.5,895.9 650.6,895.2C651.7,894.5 652.7,893.5 653.8,893.2C654.8,892.9 655.7,892.7 656.7,892.6C657.5,893.0 658.3,894.3 659.1,896.0C659.8,897.5 660.5,901.8 661.1,904.2C662.0,907.0 662.8,909.5 663.6,911.5C664.4,913.4 665.2,915.5 666.0,916.4C666.6,917.0 667.1,917.5 667.7,917.6C668.3,917.5 669.0,917.3 669.7,916.4" stroke="#0000ff"/>
<path d="M691.3,926.7C691.9,925.3 692.5,923.9 693.1,923.5C693.8,922.9 694.5,922.6 695.2,922.5C696.0,922.8 696.8,924.0 697.6,925.1C698.4,926.2 699.2,928.1 700.1,929.2C700.9,930.2 701.7,931.3 702.5,931.6C703.2,930.7 703.9,926.8 704.5,923.5C705.2,920.1 705.9,914.9 706.6,910.4C707.2,906.0 707.9,900.9 708.6,896.6C709.3,892.3 710.0,887.7 710.6,884.4C711.3,881.2 712.0,878.0 712.7,876.3C713.3,874.6 714.0,873.2 714.7,872.6C715.4,872.0 716.1,871.5 716.7,871.4C717.5,871.7 718.4,872.6 719.2,873.8C720.0,875.1 720.8,878.7 721.6,881.2C722.4,883.6 723.2,886.4 724.1,888.5C724.9,890.5 725.7,893.0 726.5,893.8C727.4,894.6 728.4,894.8 729.3,895.4C730.3,896.0 731.2,896.4 732.2,897.4C732.9,898.2 733.5,900.5 734.2,902.3C734.9,904.2 735.6,907.0 736.3,908.8C736.9,910.7 737.6,912.7 738.3,913.7C739.0,914.7 739.7,915.5 740.3,915.7C741.1,915.4 742.0,914.2 742.8,912.9C743.6,911.6 744.4,908.4 745.2,906.4C746.0,904.4 746.8,901.8 747.7,900.7C748.5,899.5 749.3,898.5 750.1,898.2C751.2,897.9 752.3,897.9 753.3,897.6C754.4,897.3 755.5,897.1 756.6,896.6C757.7,896.2 758.8,895.2 759.9,894.2C760.9,893.2 762.0,890.9 763.1,890.1C764.2,889.3 765.3,888.5 766.4,888.3C767.5,888.3 768.5,888.4 769.6,888.5C770.7,888.6 771.8,889.1 772.9,889.1C774.0,889.0 775.0,888.3 776.1,887.7C777.2,887.0 778.3,885.7 779.4,884.4C780.5,883.1 781.6,881.6 782.6,879.5C783.4,878.1 784.2,877.1 785.0,873.8C785.1,873.6 785.1,872.8 785.2,872.5C786.4,866.0 787.6,862.5 788.8,859.4C789.8,857.0 790.7,854.7 791.7,853.7C793.1,852.2 794.6,851.6 796.0,850.8C797.5,849.9 798.9,848.8 800.4,848.6C801.3,849.0 802.3,850.4 803.3,852.2C804.2,854.0 805.2,859.7 806.2,862.3C807.4,865.6 808.6,869.8 809.8,870.3C811.0,870.7 812.2,870.9 813.4,871.0C814.1,870.9 814.8,870.0 815.6,869.9C816.5,870.5 817.5,873.5 818.5,875.4C819.7,877.7 820.9,881.0 822.1,882.6C823.3,884.2 824.5,885.8 825.7,886.2C826.9,885.9 828.1,885.0 829.3,884.0C830.8,882.8 832.2,880.4 833.7,878.2C835.1,876.1 836.5,873.6 838.0,871.0C839.4,868.4 840.9,866.3 842.3,862.3C843.3,859.7 844.3,854.4 845.2,850.8C846.2,847.2 847.2,842.5 848.1,840.6C849.5,838.1 850.8,836.2 852.2,835.6C853.2,836.2 854.3,838.3 855.4,840.6C856.3,842.8 857.3,848.1 858.2,850.8C859.2,853.4 860.2,856.5 861.1,857.3C862.1,856.7 863.1,854.8 864.0,852.2C865.0,849.6 866.0,841.8 866.9,836.3C867.6,832.1 868.4,826.1 869.1,823.3C870.0,819.9 870.8,816.9 871.7,816.0C872.5,816.5 873.3,818.1 874.2,820.4C875.1,823.0 876.1,832.3 877.1,839.2C878.0,846.1 879.0,854.9 879.9,862.3C880.9,869.8 881.9,878.6 882.8,884.0C883.8,889.5 884.8,893.6 885.7,897.1C886.7,900.5 887.7,903.9 888.6,905.7C889.8,908.1 891.0,909.4 892.2,910.8C893.4,912.2 894.7,912.6 895.9,914.4C896.8,915.9 897.8,920.8 898.8,923.1C899.7,925.4 900.7,928.1 901.6,928.9C902.4,929.5 903.1,929.9 903.8,930.0C904.8,929.4 905.7,927.0 906.7,924.5C907.7,922.1 908.6,916.3 909.6,913.0C910.6,909.7 911.5,905.5 912.5,904.3C913.8,902.7 915.1,901.7 916.4,901.4C917.8,901.9 919.1,903.8 920.5,905.7C921.9,907.8 923.3,913.3 924.8,915.9C926.5,918.9 928.3,920.0 930.0,923.1C931.2,925.2 932.4,929.7 933.6,931.3C934.8,933.0 936.0,934.2 937.2,935.0C938.4,935.8 939.6,936.4 940.8,936.8C942.3,937.2 943.8,937.4 945.3,937.7C946.8,938.0 948.3,938.5 949.8,938.6C951.0,938.5 952.2,938.4 953.4,938.1C954.2,938.0 954.9,937.5 955.7,936.8C956.5,936.0 957.2,933.3 958.0,931.3C958.7,929.4 959.5,926.9 960.2,925.0C961.0,923.2 961.7,920.8 962.5,920.0C963.4,919.1 964.3,918.5 965.2,918.2C965.9,918.5 966.7,919.2 967.5,920.0C968.2,920.9 969.0,923.4 969.7,925.0C970.5,926.6 971.2,928.7 972.0,929.5C972.7,930.3 973.5,931.0 974.2,931.2C975.0,930.9 975.7,930.1 976.5,928.6C976.9,927.8 977.4,924.9 977.8,922.3C978.4,918.9 979.1,913.3 979.7,908.7C980.3,904.2 980.9,900.4 981.5,895.2C982.1,890.0 982.7,883.1 983.3,877.1C983.9,871.1 984.5,865.1 985.1,859.0C985.4,856.0 985.7,853.4 986.0,850.0C989.1,814.8 992.1,781.0 995.2,709.0C996.5,679.3 997.7,618.0 999.0,560.0C999.9,520.3 1000.7,475.0 1001.6,420.0C1002.1,386.1 1002.7,335.2 1003.2,300.0C1003.8,262.6 1004.3,230.4 1004.9,200.0C1005.2,182.1 1005.6,161.9 1005.9,150.0C1006.1,141.6 1006.4,133.3 1006.6,130.0C1006.9,126.2 1007.1,123.4 1007.4,122.5C1007.6,123.4 1007.9,126.2 1008.1,130.0C1008.4,133.3 1008.6,141.9 1008.8,150.0C1009.1,162.5 1009.5,181.1 1009.8,200.0C1010.3,228.3 1010.8,262.4 1011.3,300.0C1011.8,335.1 1012.2,383.8 1012.7,420.0C1013.4,471.7 1014.0,518.6 1014.7,560.0C1015.6,615.9 1016.5,669.2 1017.4,709.0C1018.7,766.5 1020.0,826.4 1021.3,850.0C1021.8,858.2 1022.2,861.4 1022.7,868.1C1023.1,874.8 1023.6,885.0 1024.0,890.7C1024.6,898.3 1025.2,903.6 1025.8,908.7C1026.4,913.9 1027.0,918.9 1027.6,922.3C1028.2,925.7 1028.8,928.9 1029.4,930.4C1030.0,932.0 1030.6,933.2 1031.2,933.6C1032.0,933.3 1032.7,932.3 1033.5,931.3C1034.4,930.2 1035.3,928.3 1036.2,926.8C1037.1,925.3 1038.0,923.8 1038.9,922.3C1039.7,921.1 1040.4,919.5 1041.2,918.7C1042.1,917.8 1043.0,916.9 1043.9,916.7C1044.6,916.9 1045.4,917.5 1046.2,918.2C1046.9,919.0 1047.7,921.5 1048.4,923.2C1049.2,924.9 1049.9,927.4 1050.7,928.6C1051.4,929.8 1052.2,931.0 1052.9,931.3C1053.7,930.9 1054.4,929.3 1055.2,927.7C1055.9,926.1 1056.7,923.2 1057.5,920.5C1058.1,918.3 1058.7,915.9 1059.3,913.3C1059.7,911.3 1060.2,909.2 1060.6,906.9C1061.2,903.9 1061.8,900.5 1062.4,897.0C1063.0,893.5 1063.6,890.2 1064.2,886.2C1064.8,882.1 1065.4,877.1 1066.0,872.6C1066.6,868.1 1067.2,864.3 1067.8,859.0C1068.1,856.4 1068.4,854.5 1068.7,850.0C1068.8,849.1 1068.9,847.0 1068.9,845.9C1069.5,835.4 1070.1,831.5 1070.7,823.3C1071.3,815.1 1071.9,802.9 1072.5,796.2C1073.2,789.4 1073.8,783.4 1074.4,779.9C1074.8,777.3 1075.3,774.9 1075.7,774.0C1076.5,772.5 1077.3,771.6 1078.2,771.3C1078.7,772.0 1079.2,774.6 1079.8,777.2C1080.4,780.0 1081.0,785.6 1081.6,789.8C1082.2,794.1 1082.8,798.8 1083.4,802.5C1084.0,806.2 1084.6,809.5 1085.2,812.4C1085.8,815.4 1086.4,818.3 1087.0,820.6C1087.8,823.4 1088.5,824.7 1089.3,827.8C1089.7,829.7 1090.2,832.2 1090.6,835.0C1091.2,838.8 1091.8,843.8 1092.4,848.6C1092.9,852.2 1093.3,856.6 1093.8,860.0C1094.2,862.9 1094.6,865.1 1095.0,868.1C1095.6,872.8 1096.2,879.4 1096.8,884.3C1097.4,889.3 1098.0,894.1 1098.6,897.9C1099.2,901.7 1099.8,905.6 1100.4,907.8C1101.3,911.2 1102.2,913.6 1103.1,915.1C1104.3,917.0 1105.5,918.3 1106.7,919.1C1108.2,920.2 1109.7,921.0 1111.2,921.4C1112.7,921.8 1114.2,921.9 1115.7,922.3C1117.2,922.7 1118.6,922.9 1120.0,923.7C1120.6,924.0 1121.2,925.0 1121.7,925.9C1122.7,927.3 1123.6,929.8 1124.5,931.3C1125.5,933.1 1126.6,935.0 1127.6,935.9C1128.6,936.7 1129.6,937.5 1130.6,937.7C1131.6,937.4 1132.5,936.2 1133.5,935.0C1134.3,934.0 1135.0,931.8 1135.8,930.4C1136.5,929.1 1137.3,927.3 1138.0,926.8C1139.1,926.2 1140.1,925.9 1141.2,925.7C1142.1,926.0 1143.0,926.9 1143.9,927.7C1144.6,928.4 1145.4,929.5 1146.2,930.4C1146.9,931.4 1147.7,932.9 1148.4,933.6C1149.2,934.4 1150.0,935.2 1150.9,935.4C1151.7,935.1 1152.5,933.7 1153.4,932.7C1154.6,931.3 1155.8,929.3 1157.0,927.7C1158.2,926.2 1159.4,924.9 1160.6,923.2C1161.5,921.9 1162.4,920.4 1163.3,918.7C1164.2,916.9 1165.1,914.6 1166.0,912.4C1166.9,910.1 1167.8,906.9 1168.7,905.1C1169.7,903.4 1170.6,901.6 1171.5,901.1C1172.1,900.7 1172.7,900.5 1173.3,900.4C1174.5,900.6 1175.7,901.6 1176.9,901.7C1177.8,901.4 1178.7,900.1 1179.6,898.8C1180.5,897.5 1181.4,894.5 1182.3,893.4C1183.2,892.2 1184.1,891.1 1185.0,890.9C1185.9,891.1 1186.8,892.6 1187.7,893.4C1189.1,894.5 1190.4,895.9 1191.8,896.3C1192.6,895.9 1193.3,894.9 1194.1,893.4C1194.7,892.2 1195.3,888.8 1195.9,886.2C1196.5,883.5 1197.1,880.4 1197.7,877.1C1198.3,873.8 1198.9,869.6 1199.5,866.3C1200.1,863.0 1200.7,860.3 1201.3,857.2C1201.7,854.9 1202.2,852.9 1202.6,850.0C1203.1,846.9 1203.6,842.3 1204.1,838.4C1205.5,827.1 1206.9,816.1 1208.3,804.0C1209.7,791.6 1211.2,778.2 1212.6,764.5C1214.0,750.8 1215.5,739.2 1216.9,721.5C1217.8,710.4 1218.7,690.5 1219.6,680.0C1220.5,669.5 1221.4,663.0 1222.3,654.6C1223.3,645.3 1224.3,635.4 1225.3,627.0C1225.9,621.7 1226.6,614.8 1227.2,612.3C1227.6,610.6 1228.1,609.1 1228.5,608.7C1229.0,609.3 1229.6,611.3 1230.1,614.0C1230.8,617.4 1231.4,630.5 1232.1,638.4C1232.9,647.9 1233.7,657.1 1234.5,666.0C1234.9,670.8 1235.4,674.2 1235.8,680.0C1236.4,688.0 1237.0,702.8 1237.6,713.0C1238.4,727.2 1239.3,739.9 1240.1,752.5C1241.0,765.6 1241.8,779.0 1242.7,790.3C1243.6,801.6 1244.4,813.0 1245.3,821.2C1246.2,829.4 1247.0,832.7 1247.9,841.8C1248.1,843.4 1248.2,847.0 1248.4,848.0C1249.0,852.1 1249.7,853.2 1250.4,854.9C1251.0,856.6 1251.7,858.4 1252.3,858.9C1253.2,858.4 1254.0,855.9 1254.8,854.9C1255.7,853.9 1256.5,852.7 1257.3,852.4C1258.0,852.7 1258.6,853.7 1259.3,854.9C1260.0,856.1 1260.6,859.1 1261.3,861.9C1262.0,864.6 1262.6,868.7 1263.3,871.8C1264.1,875.7 1264.9,879.8 1265.8,882.8C1266.4,885.1 1267.1,887.5 1267.8,888.7C1268.4,889.9 1269.0,890.9 1269.6,891.2C1270.5,891.0 1271.3,889.9 1272.2,889.2C1273.2,888.6 1274.1,887.5 1275.0,887.2C1275.8,887.6 1276.5,889.0 1277.2,890.7C1277.9,892.2 1278.5,895.6 1279.2,898.7C1279.9,901.7 1280.5,906.5 1281.2,909.6C1282.0,913.5 1282.8,917.1 1283.7,919.6C1284.5,922.0 1285.3,924.5 1286.2,925.5C1286.9,926.5 1287.7,927.3 1288.5,927.5C1289.5,927.3 1290.6,926.3 1291.6,925.5C1292.8,924.7 1294.0,923.1 1295.1,922.7C1295.9,923.1 1296.8,924.5 1297.6,925.5C1298.4,926.6 1299.3,928.3 1300.1,929.0C1300.8,929.6 1301.4,930.2 1302.1,930.3C1302.6,930.2 1303.2,930.1 1303.8,929.5" stroke="#0000ff"/>
<path d="M139.1,920.4C140.3,920.4 141.5,920.3 142.7,920.2C143.5,920.1 144.4,917.7 145.2,917.4C146.1,917.9 147.1,920.0 148.0,921.8C149.1,923.9 150.2,927.2 151.3,930.0C152.1,932.1 152.9,934.9 153.7,936.5C154.5,938.0 155.2,939.7 156.0,940.1C156.9,939.3 157.7,935.8 158.6,933.2C159.7,930.0 160.8,925.2 161.9,921.8C162.9,918.5 164.0,915.4 165.1,912.9C165.9,911.0 166.7,910.2 167.5,908.0C168.4,905.8 169.2,902.7 170.0,898.2C170.8,893.7 171.6,884.0 172.4,876.3C173.0,871.1 173.5,863.8 174.1,860.0C174.7,855.3 175.4,852.0 176.1,849.4C176.6,847.3 177.2,844.9 177.7,844.4C178.3,845.2 178.8,849.0 179.3,851.8C179.9,854.7 180.4,859.2 181.0,861.6C181.5,864.0 182.1,866.2 182.6,867.3C183.1,868.4 183.7,869.3 184.2,869.6C185.4,869.3 186.7,867.4 187.9,867.1C188.4,867.6 189.0,869.5 189.5,871.4C190.1,873.3 190.6,876.4 191.1,880.0C191.4,881.8 191.7,885.1 192.0,886.9C192.8,892.2 193.6,896.4 194.4,899.1C194.9,900.8 195.5,902.3 196.0,903.1C196.7,904.1 197.4,904.2 198.1,905.2C198.7,906.1 199.4,908.0 200.1,910.4C200.9,913.4 201.7,921.2 202.5,925.1C203.3,929.0 204.2,933.0 205.0,934.9C205.5,936.0 206.0,937.0 206.4,937.3C207.0,936.6 207.6,934.3 208.2,931.6C209.0,928.0 209.9,917.8 210.7,912.1C211.3,907.3 212.0,901.4 212.7,899.1C213.3,896.9 214.0,895.1 214.6,894.6C215.2,895.3 215.8,898.2 216.4,900.7C217.2,904.0 218.0,909.8 218.8,913.7C219.6,917.6 220.4,922.0 221.2,924.3C221.7,925.7 222.2,927.2 222.7,927.5C223.6,926.9 224.4,923.9 225.3,921.8C226.4,919.3 227.5,915.5 228.6,913.7C229.5,912.1 230.5,910.5 231.4,910.0C232.1,910.4 232.8,911.6 233.5,912.9C234.0,913.8 234.5,915.4 235.0,917.0C236.0,920.2 237.1,926.9 238.1,929.2C239.2,931.5 240.3,933.2 241.4,934.0C242.4,934.8 243.5,935.5 244.5,935.7C245.4,935.2 246.2,933.6 247.1,931.6C247.9,929.8 248.7,924.8 249.5,921.8C250.3,918.9 251.2,915.3 252.0,913.7C252.5,912.7 253.1,911.7 253.6,911.4C254.3,911.8 255.0,913.6 255.6,914.5C256.4,915.6 257.3,917.0 258.1,917.4C258.7,917.1 259.4,916.5 260.1,915.3C260.6,914.4 261.2,910.2 261.7,907.2C262.3,904.2 262.8,898.6 263.4,897.4C264.1,895.8 264.9,894.9 265.6,894.6C266.1,895.1 266.6,897.0 267.0,899.1C267.6,901.5 268.1,907.7 268.6,912.1C269.2,916.4 269.7,921.6 270.3,925.1C270.8,928.6 271.4,932.7 271.9,934.0C272.6,935.8 273.3,936.9 273.9,937.3C274.6,936.8 275.3,934.9 276.0,933.2C276.7,931.6 277.3,928.4 278.0,926.7C278.8,924.7 279.6,922.5 280.4,921.8C281.5,920.9 282.6,920.6 283.7,920.2C284.8,919.8 285.9,919.5 287.0,919.4C288.0,919.5 289.1,920.1 290.2,920.2C291.0,919.8 291.8,918.5 292.7,917.0C293.5,915.5 294.3,911.5 295.1,909.6C295.9,907.8 296.7,905.6 297.5,905.2C298.1,904.9 298.6,904.7 299.2,904.6C300.0,904.7 300.8,905.1 301.6,905.2C302.4,904.9 303.2,904.1 304.0,903.1C304.9,902.1 305.7,900.1 306.5,897.4C307.3,894.8 308.1,889.0 308.9,884.4C309.7,879.8 310.6,874.1 311.4,869.8C312.0,866.2 312.7,865.0 313.4,860.0C314.1,854.7 314.8,832.5 315.6,824.8C316.2,817.5 316.9,812.1 317.6,808.5C318.2,805.3 318.8,802.2 319.4,801.3C319.9,801.9 320.4,803.8 320.9,806.0C321.4,808.5 321.9,814.1 322.5,819.1C323.2,825.3 323.8,834.9 324.5,841.0C325.3,848.4 326.1,854.8 327.0,859.7C327.6,863.8 328.3,866.4 329.0,870.0C329.6,873.0 330.1,878.1 330.7,879.5C331.8,882.3 332.9,883.1 334.0,884.4C335.0,885.7 336.1,886.7 337.2,887.7C338.6,888.9 339.9,890.5 341.3,890.9C342.4,890.6 343.4,889.4 344.5,888.5C345.7,887.5 347.0,885.6 348.2,885.2C348.7,885.6 349.3,886.9 349.8,888.5C350.4,890.0 350.9,893.9 351.4,896.6C352.1,900.1 352.8,904.1 353.5,907.2C354.2,910.3 354.8,913.8 355.5,915.3C356.3,917.2 357.1,918.8 358.0,919.2C358.6,918.6 359.3,915.9 360.0,913.7C360.7,911.5 361.3,907.6 362.0,905.6C362.8,903.4 363.5,901.1 364.2,900.5C364.8,900.9 365.5,902.2 366.1,903.9C366.6,905.4 367.2,909.8 367.7,912.9C368.4,916.8 369.1,921.6 369.8,925.1C370.3,927.9 370.8,931.0 371.4,932.4C371.9,933.7 372.4,934.9 372.8,935.3C373.4,934.6 374.0,931.8 374.6,929.2C375.2,926.7 375.7,921.7 376.3,918.6C376.9,914.7 377.6,910.5 378.3,908.0C379.0,905.5 379.7,903.0 380.3,902.3C381.1,902.6 382.0,903.7 382.8,904.8C383.4,905.6 384.1,907.2 384.8,908.0C385.4,908.8 386.1,909.6 386.7,909.8C387.4,909.1 388.1,906.1 388.9,903.9C389.7,901.5 390.5,897.4 391.3,895.8C392.1,894.2 392.9,892.8 393.8,892.4C394.3,892.6 394.8,893.3 395.4,894.2C395.9,895.1 396.5,898.4 397.0,899.9C397.7,901.7 398.4,903.8 399.0,904.3C399.7,903.6 400.4,900.8 401.1,898.2C401.8,895.7 402.4,890.5 403.1,887.7C403.8,884.8 404.5,881.6 405.1,880.3C405.8,879.2 406.4,878.3 407.0,878.1C407.8,878.4 408.5,880.2 409.2,881.2C410.0,882.3 410.8,884.0 411.7,884.4C412.3,884.2 413.0,883.7 413.7,882.8C414.2,882.0 414.8,878.5 415.3,876.3C416.0,873.4 416.7,870.0 417.4,867.3C418.0,864.6 418.7,861.9 419.4,860.0C420.1,858.0 420.8,855.7 421.5,855.1C422.0,855.5 422.6,857.3 423.1,858.3C423.8,859.6 424.5,861.6 425.2,862.0C425.7,862.3 426.2,862.5 426.8,862.6C427.5,862.4 428.1,861.5 428.8,861.2C429.2,861.0 429.6,860.8 430.0,860.8C430.6,861.1 431.1,862.0 431.7,863.2C432.2,864.5 432.8,867.7 433.3,871.4C433.5,872.6 433.7,874.6 433.8,876.3C434.5,882.7 435.2,890.1 435.9,896.6C436.5,903.1 437.2,910.5 437.9,915.3C438.7,921.1 439.5,925.6 440.3,929.2C441.0,932.1 441.7,935.1 442.4,936.5C443.1,937.9 443.7,939.0 444.4,939.3C445.1,938.8 445.8,937.0 446.4,934.9C447.1,932.7 447.8,927.0 448.5,923.5C449.2,920.0 449.8,916.3 450.5,913.7C451.2,911.1 451.9,909.2 452.5,907.2C453.4,904.8 454.2,903.3 455.0,900.7C455.7,898.5 456.3,896.1 457.0,892.5C457.6,889.7 458.1,884.0 458.6,880.3C459.1,877.0 459.6,873.6 460.1,871.4C460.7,869.0 461.2,866.8 461.8,865.7C462.0,865.1 462.3,864.6 462.6,864.5C463.3,864.6 463.9,865.6 464.6,866.1C465.2,866.5 465.7,867.2 466.2,867.3C466.8,866.8 467.3,865.1 467.9,863.2C468.4,861.3 469.0,856.8 469.5,853.5C470.2,849.3 470.9,843.0 471.5,840.4C472.0,838.6 472.5,836.9 473.0,836.4C473.5,836.9 473.9,838.6 474.4,840.4C474.9,842.7 475.5,847.5 476.0,851.8C476.6,856.2 477.1,864.5 477.6,867.3C478.1,869.6 478.5,869.8 479.0,872.2C479.5,875.2 480.1,885.8 480.6,890.9C481.2,896.0 481.7,901.0 482.2,903.9C482.9,907.6 483.6,910.6 484.3,912.1C484.9,913.3 485.5,914.4 486.1,914.7C486.8,914.3 487.6,912.8 488.3,911.3C489.2,909.6 490.0,905.8 490.8,903.1C491.5,900.9 492.1,897.5 492.8,896.6C493.4,895.8 494.1,895.3 494.7,895.2C495.3,895.8 495.9,898.4 496.5,900.7C497.2,903.2 497.8,907.5 498.5,910.4C499.2,913.4 499.9,917.3 500.6,918.6C501.2,919.9 501.9,920.9 502.6,921.2C503.3,920.7 503.9,919.2 504.6,917.0C505.2,915.2 505.7,909.2 506.2,905.6C506.9,901.0 507.6,894.7 508.3,892.5C509.1,890.0 509.9,888.1 510.7,887.5C511.4,888.1 512.1,889.9 512.8,892.5C513.3,894.6 513.8,901.2 514.4,905.6C514.9,909.9 515.5,914.2 516.0,918.6C516.6,922.9 517.1,929.5 517.6,931.6C518.0,933.2 518.5,934.6 518.9,934.9C519.2,935.1 519.6,935.2 520.0,935.3C520.4,934.6 520.7,932.0 521.1,930.0C521.6,926.9 522.2,921.6 522.7,918.6C523.3,915.6 523.8,912.3 524.4,911.3C525.0,910.1 525.6,909.2 526.1,909.0C526.8,909.3 527.4,910.7 528.0,912.1C528.6,913.3 529.1,916.2 529.6,917.8C530.2,919.4 530.7,921.3 531.3,921.8C532.0,922.5 532.6,922.9 533.3,923.1C534.1,922.8 534.9,921.5 535.7,920.6C536.7,919.6 537.6,917.7 538.6,917.4C539.4,917.6 540.2,918.4 541.0,919.4C541.7,920.2 542.4,922.8 543.1,924.3C543.9,926.1 544.7,928.6 545.5,929.2C546.2,928.7 546.9,926.9 547.5,925.1C548.2,923.3 548.9,919.5 549.6,917.0C550.3,914.4 550.9,911.1 551.6,909.6C552.3,908.2 553.0,906.9 553.6,906.5C554.2,906.7 554.7,907.6 555.3,908.0C555.8,908.5 556.4,909.1 556.9,909.2C557.6,908.8 558.3,907.3 558.9,905.6C559.6,903.8 560.3,898.0 561.0,895.8C561.7,893.6 562.3,891.9 563.0,890.9C563.7,890.0 564.4,889.3 565.0,888.9C565.7,888.5 566.4,888.2 567.1,888.1C567.9,888.3 568.7,888.8 569.5,889.7C570.1,890.3 570.6,892.0 571.1,894.2C571.7,896.3 572.2,901.3 572.8,905.6C573.3,909.8 573.9,916.3 574.4,920.2C574.9,924.1 575.5,927.7 576.0,930.0C576.6,932.3 577.1,934.3 577.7,935.3C578.2,936.2 578.7,937.1 579.3,937.3C580.1,936.9 580.9,935.2 581.7,934.0C582.8,932.5 583.9,930.6 585.0,929.2C586.1,927.7 587.1,925.7 588.2,925.1C589.0,924.6 589.9,924.2 590.7,924.1C591.5,924.4 592.3,925.7 593.1,926.3C593.8,926.8 594.5,927.4 595.1,927.5C595.8,927.2 596.5,925.7 597.2,924.3C597.9,922.9 598.5,919.6 599.2,918.6C600.0,917.4 600.7,916.4 601.5,916.1C602.1,916.6 602.7,918.4 603.3,920.2C604.0,922.2 604.6,926.5 605.3,929.2C606.0,931.8 606.7,935.1 607.4,936.5C608.0,937.9 608.7,939.0 609.4,939.3C610.1,938.8 610.7,937.2 611.4,934.9C612.0,933.0 612.5,927.4 613.0,923.5C613.7,918.8 614.3,914.8 615.0,908.8C615.2,907.1 615.4,904.4 615.6,902.5C616.3,896.1 616.9,891.7 617.6,886.3C618.3,880.8 619.0,878.3 619.6,870.0C620.2,863.3 620.7,844.0 621.3,830.0C621.8,817.3 622.3,804.6 622.8,790.0C623.3,776.4 623.7,760.6 624.2,745.0C624.6,730.5 625.1,715.1 625.5,700.0C625.8,688.4 626.2,676.7 626.5,665.0C626.8,655.7 627.0,645.8 627.3,637.0C627.7,623.8 628.1,610.2 628.5,600.0C628.8,591.5 629.2,584.5 629.5,578.0C629.8,572.2 630.1,564.1 630.4,562.3C630.7,564.1 630.9,571.9 631.2,578.0C631.5,584.1 631.7,591.6 632.0,600.0C632.3,610.5 632.7,624.2 633.0,637.0C633.2,646.0 633.5,653.9 633.7,665.0C633.9,674.5 634.1,689.2 634.3,700.0C634.6,716.2 634.9,730.8 635.2,745.0C635.5,760.8 635.9,775.9 636.2,790.0C636.5,804.1 636.9,817.8 637.2,830.0C637.6,844.6 638.0,862.2 638.4,870.0C638.8,877.7 639.2,881.7 639.6,886.3C640.1,892.6 640.7,898.0 641.2,902.5C641.9,908.3 642.6,913.3 643.2,917.2C643.9,921.1 644.6,924.8 645.3,927.0C645.8,928.7 646.4,930.4 646.9,931.0C647.4,931.7 648.0,932.1 648.5,932.2C649.2,931.9 649.9,930.3 650.6,929.4C651.4,928.3 652.2,926.5 653.0,926.1C653.8,926.2 654.6,926.5 655.4,927.0C656.5,927.5 657.6,930.2 658.7,931.8C659.8,933.5 660.9,935.4 662.0,936.7C663.2,938.2 664.4,940.0 665.6,940.4C666.4,940.1 667.2,938.8 668.1,937.5C668.6,936.7 669.1,935.5 669.7,934.3" stroke="#ff0000"/>
<path d="M691.3,932.0C692.2,934.2 693.1,935.2 694.0,935.7C695.0,935.3 696.1,933.3 697.2,932.4C698.4,931.5 699.6,930.4 700.9,930.1C701.7,930.5 702.5,932.1 703.3,933.2C704.5,934.9 705.7,937.9 707.0,938.5C707.8,938.1 708.6,936.6 709.4,934.9C710.2,933.1 711.0,927.8 711.9,925.1C712.5,922.9 713.2,920.3 713.9,919.4C714.4,918.7 715.0,918.1 715.5,917.9C716.2,918.3 716.9,919.8 717.5,921.0C718.2,922.3 718.9,924.8 719.6,925.9C720.3,927.0 720.9,928.1 721.6,928.3C722.3,927.8 723.0,925.4 723.6,923.5C724.3,921.5 725.0,917.5 725.7,916.1C726.4,914.6 727.2,913.3 728.0,912.9C728.6,913.4 729.2,915.3 729.8,917.0C730.4,918.8 731.1,922.0 731.8,924.3C732.5,926.6 733.1,929.5 733.8,930.8C734.5,932.1 735.2,933.3 735.9,933.6C736.5,933.2 737.2,931.6 737.9,930.0C738.7,928.0 739.5,923.3 740.3,920.2C741.1,917.1 742.0,913.6 742.8,911.3C743.6,908.9 744.4,907.1 745.2,905.6C746.0,904.0 746.8,902.4 747.7,901.5C748.5,900.6 749.3,899.8 750.1,899.5C750.9,899.2 751.7,899.0 752.5,898.9C753.6,899.0 754.7,899.6 755.8,899.9C757.1,900.2 758.5,900.3 759.9,900.7C760.9,901.0 762.0,901.9 763.1,901.9C763.9,901.9 764.7,901.9 765.6,901.9C766.4,901.9 767.2,899.9 768.0,898.2C768.8,896.6 769.6,892.8 770.4,890.1C771.2,887.4 772.1,884.4 772.9,882.0C773.7,879.6 774.5,877.6 775.3,875.5C776.1,873.3 776.9,870.7 777.8,869.0C778.6,867.2 779.4,865.1 780.2,864.5C781.0,863.8 781.8,863.4 782.6,863.3C783.4,863.3 784.2,863.4 785.0,863.7C785.5,863.8 786.1,866.5 786.6,868.1C787.8,871.6 789.0,875.4 790.3,879.7C791.5,884.0 792.7,890.2 793.9,894.2C795.1,898.1 796.3,902.5 797.5,904.3C798.5,905.7 799.4,906.8 800.4,907.2C801.6,906.5 802.8,904.0 804.0,901.4C805.2,898.8 806.4,893.4 807.6,889.8C808.8,886.2 810.0,882.0 811.2,879.7C812.5,877.2 813.8,874.6 815.1,873.9C816.0,874.6 816.9,877.7 817.7,879.7C818.7,882.0 819.7,885.5 820.6,886.9C821.5,888.3 822.4,889.5 823.2,889.8C824.3,889.7 825.4,888.5 826.4,888.4C827.6,888.2 828.8,888.3 830.0,888.1C831.2,887.9 832.4,886.1 833.7,884.0C834.6,882.4 835.6,877.5 836.5,873.9C837.5,870.3 838.5,864.9 839.4,862.3C840.2,860.4 840.9,858.5 841.6,858.0C842.6,858.8 843.5,862.3 844.5,865.2C845.5,868.2 846.4,874.6 847.4,876.8C848.6,879.6 849.8,881.9 851.0,882.6C852.2,881.9 853.4,879.6 854.6,876.8C855.8,874.0 857.0,867.6 858.2,862.3C859.5,857.1 860.7,850.6 861.9,845.0C862.8,840.5 863.8,835.6 864.8,832.0C865.7,828.3 866.7,824.1 867.6,822.5C868.3,821.5 868.9,820.6 869.5,820.4C870.3,820.9 871.2,822.4 872.0,824.7C872.7,826.8 873.4,834.2 874.2,840.6C874.9,847.1 875.6,856.8 876.3,865.2C877.1,873.7 877.8,885.5 878.5,891.3C879.2,897.1 879.9,901.6 880.7,904.3C881.4,907.0 882.1,909.4 882.8,910.1C883.6,909.8 884.3,908.4 885.0,907.9C885.5,907.6 886.0,907.3 886.5,907.2C887.2,907.9 887.9,910.8 888.6,913.0C889.6,915.9 890.6,919.5 891.5,923.1C892.2,925.8 893.0,930.1 893.7,931.8C894.4,933.5 895.1,935.0 895.9,935.4C896.6,934.6 897.3,931.7 898.0,928.9C898.8,926.1 899.5,920.9 900.2,917.3C900.9,913.7 901.6,909.0 902.4,907.2C903.1,905.4 903.8,904.0 904.5,903.6C905.3,904.3 906.0,907.2 906.7,910.1C907.4,913.0 908.2,919.0 908.9,923.1C909.6,927.2 910.3,932.4 911.0,934.7C911.9,937.3 912.8,939.5 913.7,940.2C914.5,939.5 915.3,937.0 916.1,934.7C917.1,931.9 918.0,926.5 919.0,923.1C920.2,918.8 921.4,913.8 922.6,911.5C923.7,909.4 924.8,907.4 925.9,906.9C927.3,907.9 928.6,911.2 930.0,915.9C930.7,918.4 931.5,926.4 932.2,929.5C933.0,932.7 933.7,935.2 934.5,936.8C935.2,938.3 936.0,939.8 936.7,940.2C937.5,940.0 938.2,939.5 939.0,938.6C939.7,937.7 940.5,934.3 941.2,931.3C942.0,928.4 942.7,923.0 943.5,919.6C944.1,916.9 944.7,913.5 945.3,912.4C945.9,911.2 946.5,910.4 947.1,910.1C947.7,910.6 948.3,912.3 948.9,914.2C949.5,916.0 950.1,920.1 950.7,923.2C951.3,926.4 951.9,931.0 952.5,933.2C953.3,935.8 954.0,938.5 954.8,939.0C955.9,939.8 956.9,940.2 958.0,940.4C958.9,940.2 959.8,939.8 960.7,939.0C961.6,938.3 962.5,934.1 963.4,931.3C964.1,929.1 964.9,925.7 965.6,924.1C966.5,922.2 967.5,920.5 968.4,920.0C969.0,920.4 969.6,921.8 970.2,923.2C970.9,925.0 971.7,929.1 972.4,931.3C973.0,933.1 973.6,935.2 974.2,935.9C974.7,936.4 975.1,936.8 975.6,936.9C976.2,936.5 976.8,935.0 977.4,933.2C978.0,931.3 978.6,926.4 979.2,922.3C980.0,917.2 980.7,910.9 981.5,904.2C982.2,897.5 983.0,888.7 983.7,881.6C984.5,874.6 985.2,868.3 986.0,861.7C986.4,857.8 986.9,854.7 987.3,850.0C990.4,818.6 993.4,783.8 996.4,709.0C997.5,681.0 998.7,619.6 999.8,560.0C1000.5,521.4 1001.3,470.7 1002.0,420.0C1002.5,383.1 1003.1,337.6 1003.6,300.0C1004.1,264.7 1004.6,229.2 1005.1,200.0C1005.4,181.5 1005.7,162.7 1006.0,150.0C1006.2,142.0 1006.4,133.1 1006.6,130.0C1006.9,126.1 1007.1,123.4 1007.4,122.5C1007.6,123.4 1007.8,126.1 1008.0,130.0C1008.2,133.2 1008.3,142.0 1008.5,150.0C1008.8,162.8 1009.0,179.7 1009.3,200.0C1009.6,225.4 1010.0,270.1 1010.3,300.0C1010.8,344.8 1011.3,376.9 1011.8,420.0C1012.3,463.1 1012.8,517.2 1013.3,560.0C1013.9,614.2 1014.6,666.2 1015.2,709.0C1016.0,763.0 1016.8,828.1 1017.6,850.0C1018.1,863.1 1018.6,868.6 1019.0,877.1C1019.5,885.1 1019.9,894.0 1020.4,899.7C1021.0,907.3 1021.6,913.0 1022.2,917.8C1022.8,922.5 1023.4,926.4 1024.0,929.5C1024.8,933.5 1025.5,937.7 1026.3,939.5C1027.1,941.5 1028.0,943.1 1028.8,943.5C1029.6,943.2 1030.4,942.1 1031.2,940.4C1032.0,938.8 1032.7,933.6 1033.5,929.5C1034.1,926.3 1034.7,921.6 1035.3,918.7C1035.9,915.8 1036.5,912.6 1037.1,911.5C1037.6,910.6 1038.0,909.9 1038.5,909.7C1039.1,910.1 1039.7,911.5 1040.3,913.3C1040.9,915.0 1041.5,919.9 1042.1,923.2C1042.7,926.5 1043.3,930.8 1043.9,933.2C1044.5,935.5 1045.1,938.1 1045.7,938.6C1046.3,939.1 1046.9,939.4 1047.5,939.5C1048.4,939.2 1049.3,937.8 1050.2,936.8C1051.1,935.7 1052.0,934.5 1052.9,933.2C1053.7,932.1 1054.4,931.2 1055.2,929.5C1055.8,928.2 1056.4,925.1 1057.0,923.2C1057.8,920.9 1058.5,918.0 1059.3,916.9C1059.9,916.0 1060.5,915.3 1061.1,915.1C1061.8,915.2 1062.6,916.3 1063.3,916.4C1063.9,916.2 1064.5,915.6 1065.1,914.6C1065.6,913.9 1066.0,911.0 1066.5,908.7C1066.9,906.5 1067.4,904.5 1067.8,900.6C1068.1,898.0 1068.4,892.6 1068.7,888.0C1069.1,883.3 1069.4,876.5 1069.7,872.6C1070.1,866.8 1070.6,863.6 1071.0,859.0C1071.3,856.0 1071.6,854.5 1071.9,850.0C1072.0,849.1 1072.0,847.0 1072.1,845.9C1072.7,835.5 1073.3,830.3 1073.9,823.3C1074.5,816.2 1075.1,808.3 1075.7,803.4C1076.2,799.7 1076.6,796.1 1077.1,794.4C1077.5,792.6 1078.0,791.2 1078.4,790.7C1078.9,791.6 1079.3,795.3 1079.8,798.0C1080.4,801.6 1081.0,806.7 1081.6,810.6C1082.2,814.5 1082.8,819.3 1083.4,821.5C1083.9,823.1 1084.3,824.4 1084.8,825.1C1085.5,826.2 1086.3,827.1 1087.0,827.4C1087.8,827.6 1088.5,827.5 1089.3,827.8C1089.7,828.0 1090.2,832.2 1090.6,835.0C1091.2,838.8 1091.8,844.5 1092.4,848.6C1093.0,852.7 1093.6,854.3 1094.2,860.0C1094.3,860.8 1094.4,862.6 1094.5,863.6C1095.1,870.3 1095.7,874.3 1096.3,878.9C1096.9,883.5 1097.5,888.3 1098.1,891.6C1098.9,895.7 1099.6,899.4 1100.4,901.5C1101.6,904.9 1102.8,906.5 1104.0,908.7C1105.2,911.0 1106.4,912.8 1107.6,915.1C1108.8,917.3 1110.0,919.3 1111.2,922.3C1112.1,924.6 1113.0,928.8 1113.9,931.3C1114.7,933.4 1115.4,935.7 1116.2,936.8C1117.0,937.8 1117.7,938.8 1118.5,939.0C1119.0,938.9 1119.5,938.3 1120.0,937.7C1120.3,937.3 1120.6,936.6 1120.8,935.9C1121.6,934.0 1122.4,931.4 1123.1,928.6C1123.9,925.8 1124.6,921.8 1125.4,918.7C1126.1,915.5 1126.9,911.7 1127.6,909.7C1128.4,907.6 1129.1,905.7 1129.9,905.1C1130.6,905.5 1131.4,906.3 1132.1,907.8C1132.7,909.1 1133.3,914.2 1134.0,917.8C1134.6,921.4 1135.2,926.0 1135.8,929.5C1136.2,932.2 1136.7,935.5 1137.1,936.8C1137.7,938.2 1138.2,939.3 1138.7,939.7C1139.4,939.3 1140.1,938.4 1140.7,936.8C1141.2,935.6 1141.6,930.6 1142.1,926.8C1142.5,923.0 1143.0,916.9 1143.4,913.3C1143.9,909.7 1144.3,905.8 1144.8,904.2C1145.4,902.2 1146.0,900.6 1146.6,900.2C1147.2,900.6 1147.8,902.4 1148.4,904.2C1149.0,906.1 1149.6,911.2 1150.2,913.3C1150.7,914.8 1151.1,916.3 1151.6,916.9C1152.1,917.6 1152.7,918.1 1153.2,918.2C1153.7,917.4 1154.2,914.4 1154.7,911.5C1155.2,908.9 1155.6,904.2 1156.1,900.6C1156.7,895.8 1157.3,889.9 1157.9,886.2C1158.5,882.4 1159.1,878.4 1159.7,877.1C1160.3,875.8 1160.9,874.9 1161.5,874.6C1162.1,875.0 1162.7,876.5 1163.3,878.0C1164.1,879.9 1164.8,883.8 1165.6,886.2C1166.3,888.5 1167.1,890.9 1167.8,892.5C1168.7,894.4 1169.7,896.1 1170.6,897.0C1171.5,897.9 1172.4,898.4 1173.3,898.8C1174.6,899.4 1176.0,900.0 1177.3,900.2C1178.4,899.8 1179.4,898.7 1180.5,897.0C1181.3,895.8 1182.0,892.6 1182.8,889.8C1183.5,887.0 1184.3,882.8 1185.0,879.8C1185.8,876.8 1186.5,873.7 1187.3,871.7C1188.0,869.6 1188.8,867.9 1189.5,866.7C1190.4,865.3 1191.3,865.0 1192.2,863.6C1193.0,862.4 1193.8,860.8 1194.5,858.1C1195.0,856.5 1195.4,852.6 1195.9,850.0C1196.9,844.1 1197.9,838.9 1198.9,833.2C1201.2,820.3 1203.5,809.9 1205.8,793.7C1207.2,783.6 1208.7,769.3 1210.1,755.9C1211.5,742.5 1213.0,729.5 1214.4,713.0C1215.2,703.4 1216.1,691.3 1216.9,680.0C1217.9,666.5 1218.9,651.7 1219.9,638.4C1221.0,624.2 1222.0,609.5 1223.1,597.7C1224.1,586.7 1225.1,574.0 1226.1,568.4C1226.8,564.3 1227.6,560.4 1228.3,559.4C1229.0,560.4 1229.8,563.8 1230.5,568.4C1231.3,573.4 1232.1,589.3 1232.9,600.9C1233.7,612.5 1234.5,626.6 1235.3,638.4C1236.3,653.1 1237.3,669.1 1238.3,680.0C1239.2,689.8 1240.1,695.9 1241.0,704.4C1242.4,717.9 1243.9,734.6 1245.3,747.3C1246.7,760.0 1248.2,771.4 1249.6,781.7C1250.7,789.8 1251.9,800.1 1253.0,804.0C1253.6,806.0 1254.1,807.8 1254.7,808.3C1255.6,808.0 1256.6,806.6 1257.5,806.0C1258.6,805.4 1259.6,804.7 1260.7,804.5C1262.4,805.4 1264.2,809.7 1265.9,812.6C1267.6,815.5 1269.3,820.3 1271.0,822.0C1272.7,823.7 1274.5,823.8 1276.2,825.5C1277.3,826.6 1278.5,828.3 1279.6,831.5C1280.1,833.0 1280.7,836.9 1281.2,840.0C1281.9,843.9 1282.5,848.7 1283.2,852.9C1284.0,858.3 1284.8,864.3 1285.7,868.8C1286.7,874.2 1287.7,879.1 1288.6,882.8C1290.0,887.7 1291.3,891.0 1292.6,894.7C1293.6,897.5 1294.6,900.1 1295.6,902.7C1296.2,904.2 1296.8,907.1 1297.4,907.1C1298.5,907.2 1299.5,907.2 1300.6,907.2C1301.6,907.2 1302.7,907.2 1303.8,907.1" stroke="#ff0000"/>
<path d="M139.1,916.3C140.4,915.5 141.8,915.6 143.1,915.5C144.2,915.7 145.3,916.2 146.4,917.0C147.5,917.8 148.6,921.2 149.6,923.5C150.7,925.8 151.8,929.3 152.9,930.8C153.9,932.1 154.8,933.3 155.7,933.6C156.7,933.0 157.6,930.7 158.6,928.3C159.7,925.7 160.8,919.9 161.9,916.1C162.9,912.4 164.0,909.5 165.1,905.6C165.9,902.6 166.7,899.8 167.5,895.8C168.4,891.8 169.2,886.2 170.0,880.3C170.8,874.5 171.6,861.3 172.4,860.0C172.7,859.6 173.0,859.6 173.2,859.2C173.9,858.1 174.6,848.1 175.3,845.3C175.8,843.1 176.4,841.4 176.9,840.4C177.3,839.7 177.7,839.0 178.1,838.8C178.9,839.3 179.8,841.2 180.6,842.9C181.7,845.1 182.7,849.1 183.8,851.8C185.2,855.3 186.5,858.7 187.9,861.6C188.7,863.4 189.5,864.3 190.3,866.5C191.4,869.5 192.5,877.1 193.6,882.0C194.7,886.8 195.8,891.3 196.8,895.8C197.9,900.3 199.0,904.3 200.1,908.8C200.9,912.2 201.7,917.4 202.5,919.4C203.5,921.8 204.4,923.7 205.4,924.3C206.3,923.4 207.3,920.1 208.2,917.0C209.0,914.2 209.9,908.0 210.7,905.6C211.9,901.9 213.1,898.5 214.3,897.6C215.3,898.3 216.2,901.4 217.2,903.9C218.3,906.8 219.4,912.5 220.4,914.5C221.5,916.4 222.5,918.0 223.5,918.4C224.7,917.9 225.8,915.1 226.9,913.7C228.4,911.9 229.8,909.2 231.3,908.7C232.1,909.0 233.0,910.0 233.9,911.3C234.2,911.8 234.6,912.7 235.0,913.7C235.8,915.7 236.5,919.7 237.3,921.8C238.4,924.8 239.5,927.9 240.6,929.2C241.7,930.4 242.7,931.3 243.8,931.6C244.6,931.2 245.5,929.9 246.3,928.3C247.1,926.8 247.9,922.6 248.7,920.2C249.5,917.8 250.3,914.8 251.2,913.7C252.0,912.6 252.8,912.1 253.6,911.4C254.7,910.5 255.8,909.9 256.9,908.8C257.7,908.0 258.5,906.9 259.3,905.6C260.1,904.2 260.9,901.0 261.7,899.9C262.7,898.5 263.6,897.4 264.6,897.0C265.3,897.4 265.9,898.9 266.6,900.7C267.3,902.5 268.0,907.2 268.6,910.4C269.3,913.7 270.0,917.4 270.7,920.2C271.4,923.0 272.0,926.6 272.7,927.5C273.5,928.7 274.3,929.3 275.2,929.6C276.1,929.0 277.1,926.1 278.0,924.3C278.8,922.7 279.6,920.5 280.4,919.4C281.3,918.3 282.1,917.4 282.9,917.0C284.2,916.3 285.6,916.3 287.0,915.7C288.0,915.3 289.1,914.7 290.2,913.7C291.3,912.7 292.4,910.0 293.5,908.0C294.6,906.0 295.6,903.4 296.7,901.5C297.8,899.6 298.9,898.1 300.0,896.6C301.1,895.1 302.1,894.6 303.2,892.5C304.0,891.0 304.9,887.9 305.7,884.4C306.3,881.5 307.0,875.9 307.7,872.2C308.5,867.8 309.3,865.1 310.1,860.0C310.6,857.2 311.0,853.4 311.5,849.2C312.3,841.6 313.1,828.0 313.9,820.7C314.8,813.4 315.6,806.9 316.4,802.8C316.9,800.0 317.5,797.4 318.0,796.3C318.4,795.4 318.8,794.7 319.2,794.5C319.9,794.8 320.6,795.6 321.3,797.1C321.8,798.2 322.3,802.3 322.9,806.0C323.7,811.6 324.5,821.7 325.3,828.8C326.1,836.0 327.0,844.5 327.8,849.2C328.7,854.6 329.7,856.8 330.6,861.4C331.1,863.4 331.5,866.5 331.9,868.1C332.6,870.7 333.3,872.5 334.0,873.8C334.8,875.4 335.6,876.7 336.4,877.5C337.3,878.4 338.3,879.2 339.2,879.5C340.1,879.8 340.9,880.1 341.7,880.2C342.6,880.1 343.6,879.7 344.5,879.5C345.1,879.5 345.6,879.4 346.2,879.4C347.0,879.6 347.8,880.5 348.6,881.6C349.3,882.5 350.0,884.7 350.6,886.9C351.3,889.0 352.0,892.5 352.7,895.0C353.5,898.0 354.3,901.3 355.1,903.1C356.1,905.3 357.0,907.4 358.0,908.0C358.9,907.7 359.9,906.4 360.8,905.6C361.9,904.6 363.0,902.7 364.1,902.3C364.9,902.9 365.7,905.0 366.5,907.2C367.2,909.0 367.9,913.1 368.5,915.3C369.2,917.6 369.9,920.0 370.6,921.0C371.3,922.2 372.1,923.2 372.8,923.5C373.6,923.1 374.3,921.8 375.0,920.2C375.7,918.8 376.4,915.3 377.1,912.9C377.8,910.4 378.4,907.3 379.1,905.6C379.8,903.8 380.5,902.0 381.1,901.5C382.0,900.8 382.8,900.6 383.6,900.3C384.4,900.0 385.2,899.9 386.0,899.5C386.7,899.1 387.4,898.3 388.1,897.4C388.7,896.5 389.4,894.4 390.1,893.4C390.9,892.2 391.7,890.9 392.5,890.5C393.2,890.2 393.9,890.0 394.6,889.9C395.5,890.0 396.5,890.7 397.4,890.8C398.2,890.5 399.0,889.6 399.9,888.5C400.5,887.6 401.2,885.5 401.9,883.6C402.6,881.7 403.2,878.6 403.9,877.1C404.7,875.3 405.6,873.9 406.4,873.0C407.5,871.9 408.5,871.5 409.6,870.6C410.4,869.9 411.2,869.2 412.1,868.1C412.7,867.2 413.4,865.6 414.1,864.1C414.6,862.9 415.2,861.7 415.7,860.0C416.3,858.2 416.9,854.4 417.4,852.7C418.2,850.1 419.1,847.7 419.9,847.0C421.0,846.0 422.0,845.4 423.1,845.2C424.2,845.3 425.3,845.6 426.4,846.1C427.5,846.7 428.5,848.3 429.6,850.2C430.4,851.7 431.3,854.2 432.1,857.5C432.6,859.8 433.2,860.9 433.7,867.3C433.7,867.8 433.8,870.0 433.8,870.6C434.5,880.3 435.2,881.4 435.9,886.9C436.5,892.3 437.2,898.3 437.9,903.1C438.7,908.9 439.5,914.6 440.3,918.6C441.0,921.9 441.7,925.3 442.4,926.7C443.1,928.1 443.7,929.2 444.4,929.6C445.2,929.2 446.0,928.2 446.9,926.7C447.7,925.2 448.5,919.7 449.3,916.1C450.1,912.6 450.9,909.2 451.7,905.6C452.5,901.9 453.4,898.1 454.2,894.2C455.0,890.2 455.8,886.0 456.6,882.0C457.4,877.9 458.2,873.4 459.1,869.8C459.9,866.1 460.7,862.9 461.5,860.0C462.0,858.2 462.5,856.7 463.0,855.1C464.1,851.7 465.2,848.6 466.2,845.3C467.3,842.1 468.4,837.9 469.5,835.6C470.5,833.5 471.4,831.3 472.4,830.7C473.2,831.3 474.0,833.0 474.8,835.6C475.5,837.7 476.1,843.5 476.8,848.6C477.4,852.7 477.9,859.7 478.5,863.2C479.0,867.1 479.6,868.2 480.2,872.2C480.8,875.9 481.3,884.2 481.8,888.5C482.4,892.8 482.9,897.1 483.5,899.1C484.0,901.0 484.6,902.3 485.1,903.1C485.6,903.9 486.2,904.6 486.7,904.8C487.5,904.4 488.3,902.8 489.2,901.5C490.0,900.2 490.8,897.5 491.6,896.6C492.4,895.7 493.2,895.0 494.0,894.8C494.9,895.2 495.7,896.7 496.5,898.2C497.3,899.8 498.1,904.2 498.9,905.6C499.9,907.2 500.8,908.4 501.8,908.8C502.6,908.5 503.4,907.7 504.2,906.4C504.9,905.3 505.6,900.7 506.2,898.2C506.9,895.8 507.6,892.9 508.3,891.7C508.9,890.6 509.5,889.7 510.2,889.5C510.9,889.9 511.6,891.5 512.4,893.4C513.0,895.1 513.7,899.1 514.4,902.3C515.2,906.1 516.0,911.1 516.8,914.5C517.5,917.3 518.2,920.1 518.9,921.8C519.2,922.8 519.6,924.0 520.0,924.3C520.6,923.6 521.3,920.3 521.9,918.6C522.7,916.4 523.5,914.0 524.4,912.9C525.3,911.7 526.1,910.7 527.0,910.4C527.8,910.7 528.5,911.9 529.2,912.9C529.9,913.8 530.6,915.7 531.3,916.1C532.2,916.8 533.2,917.2 534.1,917.4C535.1,917.3 536.0,916.9 537.0,916.6C537.5,916.4 538.1,916.0 538.6,916.0C539.4,916.3 540.2,917.9 541.0,918.6C542.0,919.4 542.9,920.4 543.9,920.6C544.7,920.3 545.5,919.3 546.3,918.2C547.0,917.2 547.7,915.2 548.4,913.7C549.2,911.9 550.0,909.6 550.8,908.0C551.6,906.4 552.4,905.3 553.2,903.9C554.1,902.6 554.9,901.2 555.7,899.9C556.5,898.5 557.3,897.3 558.1,895.8C558.9,894.3 559.8,892.7 560.6,890.9C561.4,889.2 562.2,886.8 563.0,885.2C563.7,883.9 564.4,882.4 565.0,882.0C565.7,881.5 566.3,881.3 566.9,881.2C567.6,881.4 568.4,882.3 569.1,883.6C569.8,884.8 570.5,889.0 571.1,892.5C571.7,895.4 572.2,899.7 572.8,903.1C573.4,907.4 574.1,911.9 574.8,915.3C575.5,918.8 576.2,922.2 576.8,924.3C577.7,926.8 578.5,928.9 579.3,930.0C580.0,930.9 580.6,931.8 581.3,932.0C582.3,931.7 583.2,930.3 584.2,929.2C585.0,928.2 585.8,926.6 586.6,925.9C587.4,925.2 588.2,924.7 589.0,924.3C589.9,923.8 590.7,923.4 591.5,923.1C592.4,922.6 593.4,922.4 594.3,921.8C595.3,921.3 596.2,920.0 597.2,919.4C598.3,918.7 599.4,918.0 600.4,917.8C601.2,918.2 602.1,919.6 602.9,921.0C603.7,922.4 604.5,925.4 605.3,926.7C606.3,928.3 607.2,930.0 608.2,930.4C609.0,930.1 609.8,929.1 610.6,927.5C611.3,926.3 612.0,922.0 612.6,918.6C613.4,914.6 614.2,911.5 615.0,904.8C615.7,898.4 616.5,883.7 617.2,870.0C617.8,858.9 618.4,843.0 619.0,830.0C619.6,816.2 620.3,804.0 620.9,789.5C621.4,777.3 622.0,764.3 622.5,750.0C623.1,734.8 623.6,717.1 624.2,700.0C624.6,687.0 625.1,672.4 625.5,660.0C626.0,645.7 626.5,631.4 627.0,620.0C627.5,608.6 628.0,598.1 628.5,590.0C629.0,582.5 629.4,573.2 629.9,571.0C630.4,573.2 631.0,582.0 631.5,590.0C632.0,597.5 632.5,607.8 633.0,620.0C633.4,630.6 633.9,646.7 634.3,660.0C634.7,673.3 635.2,682.5 635.6,700.0C635.9,712.1 636.2,736.1 636.5,750.0C636.8,765.4 637.2,778.7 637.5,789.5C638.0,805.7 638.5,813.7 639.0,830.0C639.3,840.9 639.7,864.4 640.0,870.0C640.5,879.1 641.1,880.9 641.6,886.3C642.2,891.7 642.7,898.3 643.2,902.5C643.9,907.9 644.6,912.4 645.3,915.6C646.0,918.7 646.6,921.7 647.3,922.9C648.3,924.6 649.2,925.8 650.2,926.1C651.1,926.1 652.1,925.6 653.0,925.5C653.7,925.4 654.4,925.3 655.0,925.3C656.0,925.6 656.9,926.7 657.9,927.8C659.0,928.9 660.1,931.4 661.1,932.7C662.5,934.2 663.9,935.9 665.2,936.3C666.2,936.1 667.1,935.3 668.1,934.7C668.6,934.3 669.1,933.9 669.7,933.5" stroke="#008000"/>
<path d="M691.3,926.7C691.9,928.1 692.5,929.5 693.1,930.0C694.2,930.9 695.3,931.4 696.4,931.6C697.5,931.6 698.6,931.2 699.6,931.2C700.7,931.3 701.8,932.0 702.9,932.4C704.0,932.8 705.1,933.5 706.2,933.6C707.0,933.3 707.8,932.1 708.6,930.8C709.4,929.5 710.2,926.7 711.0,925.1C711.9,923.5 712.7,921.5 713.5,921.0C714.3,920.6 715.1,920.3 715.9,920.2C717.0,920.1 718.1,920.1 719.2,920.0C720.3,920.0 721.3,919.3 722.4,918.6C723.5,917.9 724.6,916.1 725.7,915.3C726.4,914.8 727.2,914.3 728.0,914.1C728.7,914.4 729.4,915.7 730.2,917.0C730.8,918.1 731.5,921.0 732.2,921.8C733.4,923.3 734.6,924.4 735.9,924.7C736.7,924.4 737.5,923.7 738.3,922.7C739.0,921.7 739.7,918.6 740.3,916.1C741.0,913.7 741.7,910.6 742.4,908.0C743.0,905.4 743.7,902.4 744.4,900.7C745.2,898.6 746.0,896.7 746.8,895.8C747.9,894.6 749.0,893.7 750.1,893.4C751.4,892.9 752.8,892.6 754.2,892.5C755.5,892.6 756.9,893.1 758.2,893.4C759.6,893.6 760.9,894.1 762.3,894.2C763.4,894.0 764.5,893.4 765.6,892.5C766.4,891.9 767.2,890.7 768.0,889.3C768.8,887.8 769.6,885.1 770.4,882.8C771.2,880.5 772.1,877.9 772.9,875.5C773.7,873.0 774.5,870.6 775.3,868.1C776.1,865.7 776.9,862.7 777.8,860.8C777.9,860.5 778.0,860.3 778.2,860.0C778.8,858.5 779.5,854.9 780.1,854.4C781.3,853.5 782.5,853.1 783.7,852.9C784.9,853.5 786.2,855.6 787.4,858.0C788.6,860.4 789.8,866.7 791.0,871.0C792.2,875.4 793.4,880.5 794.6,884.0C795.6,886.9 796.5,889.9 797.5,891.3C798.6,892.8 799.7,894.1 800.8,894.4C802.1,893.7 803.4,891.1 804.7,888.4C805.9,885.8 807.1,879.8 808.3,876.8C809.5,873.8 810.7,870.6 812.0,869.6C813.0,868.7 814.1,868.0 815.1,867.8C816.2,868.4 817.4,871.0 818.5,872.5C819.7,874.0 820.9,875.8 822.1,876.8C823.6,878.1 825.2,879.4 826.7,879.7C828.1,879.4 829.4,878.3 830.8,876.8C832.0,875.5 833.2,871.6 834.4,868.1C835.3,865.4 836.3,861.1 837.3,858.0C838.0,855.7 838.7,852.7 839.4,851.5C840.3,850.1 841.2,848.9 842.0,848.6C842.9,849.0 843.7,850.6 844.5,852.2C845.5,854.1 846.4,859.1 847.4,860.9C848.7,863.3 850.0,865.4 851.3,865.9C852.4,865.4 853.5,863.4 854.6,860.9C855.6,858.7 856.6,853.9 857.5,849.3C858.5,844.7 859.5,836.9 860.4,832.0C861.4,827.0 862.3,822.4 863.3,818.9C864.3,815.5 865.2,812.2 866.2,810.3C867.2,808.3 868.1,806.4 869.1,805.9C869.8,806.3 870.5,807.6 871.3,809.5C872.0,811.4 872.7,817.7 873.4,823.3C874.2,828.9 874.9,838.1 875.6,845.0C876.6,854.1 877.5,863.7 878.5,871.0C879.5,878.3 880.4,885.0 881.4,889.8C882.4,894.6 883.3,898.1 884.3,901.4C885.3,904.7 886.2,907.4 887.2,910.1C888.1,912.7 889.1,915.2 890.1,917.3C891.0,919.4 892.0,921.7 893.0,923.1C893.8,924.3 894.7,925.6 895.6,926.0C896.4,925.5 897.2,923.5 898.0,921.6C899.0,919.5 900.0,914.8 900.9,913.0C902.1,910.6 903.3,908.5 904.5,907.9C905.5,908.5 906.5,910.7 907.4,913.0C908.4,915.2 909.4,920.2 910.3,923.1C911.5,926.7 912.7,931.4 913.9,932.5C915.1,931.9 916.4,929.9 917.6,927.4C918.5,925.5 919.5,920.4 920.5,917.3C921.4,914.2 922.4,910.3 923.3,908.6C924.2,907.1 925.1,905.8 925.9,905.4C927.3,906.3 928.6,907.8 930.0,913.0C930.1,913.5 930.3,916.1 930.4,916.9C931.1,921.4 931.9,922.8 932.7,925.0C933.4,927.2 934.2,929.5 934.9,930.4C935.8,931.6 936.7,932.4 937.6,932.7C938.4,932.3 939.1,931.0 939.9,929.5C940.6,928.1 941.4,924.6 942.1,922.3C942.9,920.1 943.7,917.0 944.4,916.0C945.2,914.8 946.1,914.0 946.9,913.7C947.6,914.0 948.3,914.9 948.9,916.0C949.7,917.2 950.4,920.7 951.2,923.2C951.9,925.8 952.7,929.2 953.4,931.3C954.2,933.5 954.9,936.0 955.7,936.8C956.5,937.5 957.2,938.0 958.0,938.1C958.9,937.9 959.8,937.0 960.7,935.9C961.6,934.8 962.5,931.5 963.4,929.5C964.1,927.9 964.9,925.7 965.6,925.0C966.4,924.3 967.1,923.8 967.9,923.7C968.7,923.9 969.4,924.9 970.2,925.5C971.2,926.3 972.3,927.5 973.3,927.7C974.1,927.5 974.8,927.0 975.6,925.9C976.2,925.1 976.8,921.9 977.4,918.7C978.0,915.5 978.6,909.1 979.2,904.2C980.0,898.2 980.7,892.9 981.5,886.2C982.1,880.8 982.7,874.1 983.3,868.1C983.9,862.1 984.5,857.0 985.1,850.0C988.2,814.5 991.2,779.5 994.3,709.0C995.6,678.4 997.0,616.5 998.3,560.0C999.3,519.1 1000.2,476.3 1001.2,420.0C1001.8,387.0 1002.3,335.3 1002.9,300.0C1003.5,262.7 1004.1,229.8 1004.7,200.0C1005.1,181.8 1005.4,162.7 1005.8,150.0C1006.0,141.9 1006.3,133.1 1006.5,130.0C1006.8,126.0 1007.1,123.4 1007.4,122.5C1007.6,123.4 1007.8,126.1 1008.0,130.0C1008.2,133.3 1008.4,142.1 1008.6,150.0C1008.9,163.0 1009.2,179.5 1009.5,200.0C1009.9,225.1 1010.2,268.7 1010.6,300.0C1011.1,342.7 1011.6,379.4 1012.1,420.0C1012.7,466.0 1013.2,516.7 1013.8,560.0C1014.5,613.5 1015.2,672.8 1015.9,709.0C1017.1,771.1 1018.3,827.7 1019.5,850.0C1019.9,858.4 1020.4,861.4 1020.8,868.1C1021.3,874.8 1021.7,884.0 1022.2,890.7C1022.7,897.4 1023.1,904.0 1023.6,908.7C1024.2,915.1 1024.8,920.8 1025.4,924.1C1026.1,928.3 1026.9,931.8 1027.6,933.2C1028.4,934.5 1029.1,935.5 1029.9,935.9C1030.6,935.3 1031.4,933.4 1032.1,931.3C1032.9,929.3 1033.7,924.9 1034.4,922.3C1035.0,920.3 1035.6,917.8 1036.2,916.9C1037.0,915.7 1037.7,914.9 1038.5,914.6C1039.2,914.9 1040.0,915.7 1040.7,916.9C1041.5,918.0 1042.2,921.7 1043.0,924.1C1043.7,926.5 1044.5,929.7 1045.2,931.3C1046.0,933.0 1046.8,934.7 1047.5,935.0C1048.3,935.2 1049.0,935.4 1049.8,935.4C1050.7,935.1 1051.6,934.3 1052.5,933.2C1053.4,932.0 1054.3,929.1 1055.2,926.8C1056.1,924.6 1057.0,921.7 1057.9,919.6C1058.8,917.5 1059.7,916.0 1060.6,914.2C1061.4,912.7 1062.1,911.5 1062.9,909.7C1063.5,908.2 1064.1,906.5 1064.7,904.2C1065.3,902.0 1065.9,899.3 1066.5,895.2C1066.9,892.1 1067.4,886.2 1067.8,881.6C1068.3,877.1 1068.7,873.2 1069.2,868.1C1069.7,862.9 1070.1,853.8 1070.6,850.0C1070.8,848.2 1071.0,847.8 1071.2,845.9C1071.6,841.9 1072.1,829.8 1072.5,823.3C1073.2,814.6 1073.8,806.8 1074.4,800.7C1075.0,794.6 1075.6,787.8 1076.2,785.3C1076.9,782.3 1077.7,780.1 1078.4,779.4C1079.2,779.9 1079.9,781.7 1080.7,783.5C1081.4,785.3 1082.2,788.7 1082.9,791.6C1083.7,794.6 1084.5,798.3 1085.2,801.6C1086.1,805.5 1087.0,809.4 1087.9,813.3C1088.8,817.3 1089.7,820.4 1090.6,825.1C1091.4,829.0 1092.1,834.5 1092.9,839.6C1093.5,843.6 1094.1,847.5 1094.7,852.2C1095.0,854.6 1095.3,856.7 1095.6,860.0C1095.7,861.0 1095.8,862.7 1095.9,863.6C1096.5,869.9 1097.1,872.9 1097.7,877.1C1098.3,881.3 1098.9,886.0 1099.5,888.9C1100.4,893.2 1101.3,896.3 1102.2,898.8C1103.4,902.2 1104.6,904.4 1105.8,906.9C1107.0,909.5 1108.2,911.3 1109.4,914.2C1110.3,916.4 1111.2,919.8 1112.1,922.3C1113.0,924.9 1113.9,928.1 1114.8,929.5C1115.7,931.0 1116.7,932.3 1117.6,932.7C1118.4,932.6 1119.2,932.4 1120.0,931.8C1120.3,931.6 1120.6,930.3 1120.8,929.5C1121.6,927.4 1122.4,924.9 1123.1,922.3C1123.9,919.8 1124.6,916.3 1125.4,914.2C1126.1,912.0 1126.9,909.5 1127.6,908.7C1128.4,908.0 1129.1,907.6 1129.9,907.4C1130.6,907.8 1131.4,909.0 1132.1,910.6C1132.9,912.1 1133.7,916.3 1134.4,918.7C1135.2,921.1 1135.9,924.0 1136.7,925.0C1137.3,925.8 1137.9,926.5 1138.5,926.6C1139.2,926.2 1140.0,924.9 1140.7,923.2C1141.5,921.6 1142.2,917.0 1143.0,914.2C1143.7,911.3 1144.5,907.2 1145.2,906.0C1146.0,904.9 1146.8,903.8 1147.5,903.8C1148.4,903.8 1149.3,903.8 1150.2,903.8C1151.0,903.8 1151.7,903.0 1152.5,902.0C1153.1,901.2 1153.7,898.6 1154.3,896.1C1154.9,893.6 1155.5,889.3 1156.1,886.2C1156.7,883.0 1157.3,879.1 1157.9,877.1C1158.5,875.1 1159.1,873.0 1159.7,872.6C1160.8,871.9 1161.8,871.6 1162.9,871.5C1163.6,871.8 1164.4,873.1 1165.1,874.4C1166.0,876.0 1166.9,879.6 1167.8,881.6C1168.7,883.7 1169.7,885.7 1170.6,887.1C1171.5,888.4 1172.4,889.6 1173.3,890.2C1174.2,890.8 1175.1,891.3 1176.0,891.4C1176.9,891.2 1177.8,890.6 1178.7,889.8C1179.6,888.9 1180.5,886.6 1181.4,884.3C1182.3,882.1 1183.2,878.5 1184.1,875.3C1185.0,872.2 1185.9,868.5 1186.8,865.4C1187.7,862.2 1188.6,859.4 1189.5,856.3C1190.1,854.3 1190.7,852.3 1191.3,850.0C1193.0,843.7 1194.6,836.5 1196.3,828.0C1198.3,817.7 1200.3,804.6 1202.3,790.3C1204.0,777.9 1205.8,763.0 1207.5,747.3C1208.9,734.3 1210.4,721.4 1211.8,704.4C1212.5,696.1 1213.2,685.6 1213.9,675.0C1214.8,661.4 1215.7,643.9 1216.6,630.2C1218.0,609.4 1219.3,591.1 1220.7,573.3C1221.8,559.0 1222.9,542.9 1224.0,532.6C1224.7,526.0 1225.4,518.9 1226.1,516.3C1226.7,514.0 1227.4,512.2 1228.0,511.7C1228.8,512.8 1229.7,516.4 1230.5,521.2C1231.3,525.8 1232.1,538.5 1232.9,548.8C1234.0,563.0 1235.1,581.2 1236.2,597.7C1237.3,613.7 1238.3,633.0 1239.4,646.5C1240.3,657.5 1241.1,666.4 1242.0,675.0C1243.1,685.9 1244.2,694.1 1245.3,704.4C1246.7,717.9 1248.2,735.5 1249.6,747.3C1250.7,756.6 1251.9,766.6 1253.0,771.4C1254.1,776.2 1255.3,780.7 1256.4,781.7C1258.1,783.2 1259.9,782.9 1261.6,784.2C1263.0,785.2 1264.5,787.9 1265.9,790.3C1267.6,793.1 1269.3,797.5 1271.0,800.6C1272.7,803.8 1274.5,805.2 1276.2,809.2C1277.3,811.8 1278.5,816.8 1279.6,821.2C1280.8,825.8 1281.9,830.6 1283.1,836.6C1284.0,841.0 1284.8,847.0 1285.7,851.9C1286.7,857.7 1287.7,864.2 1288.6,868.8C1289.8,874.3 1291.0,878.9 1292.1,882.8C1293.3,886.6 1294.5,890.0 1295.6,892.7C1296.6,895.0 1297.6,897.4 1298.6,898.7C1299.4,899.8 1300.3,900.8 1301.1,901.2C1301.6,901.4 1302.1,901.6 1302.6,901.7C1303.0,901.6 1303.4,901.6 1303.8,901.5" stroke="#008000"/>
</g>
<g stroke="#000" stroke-width="3.6" stroke-linecap="round" fill="none">
<path d="M138.7,40.5V949.2H670" stroke-linejoin="miter"/>
<path d="M690.3,949.2H1359.0"/>
<path d="M138.7,123.0H156"/>
<path d="M138.7,327.6H156"/>
<path d="M138.7,532.2H156"/>
<path d="M138.7,736.9H156"/>
<path d="M138.7,941.5H156"/>
<path d="M138.8,949.2V932.6"/>
<path d="M351.1,949.2V932.6"/>
<path d="M563.3,949.2V932.6"/>
<path d="M244.9,949.2V940.8"/>
<path d="M457.2,949.2V940.8"/>
<path d="M801.8,949.2V932.6"/>
<path d="M1024.5,949.2V932.6"/>
<path d="M1247.3,949.2V932.6"/>
<path d="M690.4,949.2V940.8"/>
<path d="M913.2,949.2V940.8"/>
<path d="M1135.9,949.2V940.8"/>
<path d="M1358.7,949.2V940.8"/>
</g>
<path d="M670,949.2H690" stroke="#000" stroke-width="1.2" fill="none"/>
<g stroke="#000" stroke-width="3.3" stroke-linecap="round" fill="none">
<path d="M659.4,967L680.6,932.1"/><path d="M680.4,967L701.0,932.7"/>
</g>
<rect x="165.3" y="64.6" width="609.85" height="268.4" fill="#fff" stroke="#000" stroke-width="2.4" stroke-linejoin="round"/>
<path d="M225.3,118.2H336" stroke="#000000" stroke-width="1.3" fill="none"/>
<path d="M225.3,170.9H336" stroke="#0000ff" stroke-width="1.3" fill="none"/>
<path d="M225.3,223.6H336" stroke="#ff0000" stroke-width="1.3" fill="none"/>
<path d="M225.3,276.3H336" stroke="#008000" stroke-width="1.3" fill="none"/>
<text id="leg0" transform="translate(348.30,134.50) scale(1,1.03)" font-family="Liberation Sans, Arial, sans-serif" font-size="43.2" clip-path="url(#c_leg0)" xml:space="preserve">5A1N</text>
<text id="leg1" transform="translate(348.30,187.20) scale(1,1.03)" font-family="Liberation Sans, Arial, sans-serif" font-size="43.2" clip-path="url(#c_leg1)" xml:space="preserve">5A1N + 0.5% RGO</text>
<text id="leg2" transform="translate(348.30,239.90) scale(1,1.03)" font-family="Liberation Sans, Arial, sans-serif" font-size="43.2" clip-path="url(#c_leg2)" xml:space="preserve">5A1N + 2.5% RGO</text>
<text id="leg3" transform="translate(348.30,292.60) scale(1,1.03)" font-family="Liberation Sans, Arial, sans-serif" font-size="43.2" clip-path="url(#c_leg3)" xml:space="preserve">5A1N +   5% RGO</text>
<text id="tick200" transform="translate(138.10,1008.30)" font-family="Liberation Sans, Arial, sans-serif" font-size="51.5" text-anchor="middle" xml:space="preserve">200</text>
<text id="tick400" transform="translate(350.66,1008.30)" font-family="Liberation Sans, Arial, sans-serif" font-size="51.5" text-anchor="middle" xml:space="preserve">400</text>
<text id="tick600" transform="translate(562.42,1008.30)" font-family="Liberation Sans, Arial, sans-serif" font-size="51.5" text-anchor="middle" xml:space="preserve">600</text>
<text id="tick1200" transform="translate(799.38,1008.30)" font-family="Liberation Sans, Arial, sans-serif" font-size="51.5" text-anchor="middle" clip-path="url(#c_tick1200)" xml:space="preserve">1200</text>
<text id="tick1400" transform="translate(1022.94,1008.30)" font-family="Liberation Sans, Arial, sans-serif" font-size="51.5" text-anchor="middle" clip-path="url(#c_tick1400)" xml:space="preserve">1400</text>
<text id="tick1600" transform="translate(1246.50,1008.30)" font-family="Liberation Sans, Arial, sans-serif" font-size="51.5" text-anchor="middle" clip-path="url(#c_tick1600)" xml:space="preserve">1600</text>
<text id="xtitle" transform="translate(533.00,1076.00)" font-family="Liberation Sans, Arial, sans-serif" font-size="49.4" font-weight="bold" clip-path="url(#c_xtitle)" xml:space="preserve">Wavenumbers (cm<tspan font-size="30" dy="-27.4">-1</tspan><tspan dy="27.4">)</tspan></text>
<text id="ytitle" transform="translate(80.80,528.75) rotate(-90)" font-family="Liberation Sans, Arial, sans-serif" font-size="49.7" font-weight="bold" text-anchor="middle" xml:space="preserve">Normalized Raman Intensity</text>
<text id="lab235" transform="translate(202.40,789.70) rotate(-90) scale(1,1.06)" font-family="Liberation Sans, Arial, sans-serif" font-size="41.8" xml:space="preserve">235</text>
<text id="lab372" transform="translate(335.60,791.80) rotate(-90) scale(1,1.06)" font-family="Liberation Sans, Arial, sans-serif" font-size="41.8" xml:space="preserve">372</text>
<text id="labs466" transform="translate(434.20,844.70) rotate(-90) scale(0.975,1.06)" font-family="Liberation Sans, Arial, sans-serif" font-size="41.8" font-weight="bold" xml:space="preserve">*466</text>
<text id="lab515" transform="translate(493.80,824.00) rotate(-90) scale(1,1.06)" font-family="Liberation Sans, Arial, sans-serif" font-size="41.8" clip-path="url(#c_lab515)" xml:space="preserve">515</text>
<text id="lab663" transform="translate(642.30,560.40) rotate(-90) scale(1,1.06)" font-family="Liberation Sans, Arial, sans-serif" font-size="41.8" xml:space="preserve">663</text>
<text id="lab1124" transform="translate(734.90,869.80) rotate(-90) scale(1,1.06)" font-family="Liberation Sans, Arial, sans-serif" font-size="41.8" clip-path="url(#c_lab1124)" xml:space="preserve">1124</text>
<text id="lab1263" transform="translate(890.50,810.60) rotate(-90) scale(1,1.06)" font-family="Liberation Sans, Arial, sans-serif" font-size="41.8" clip-path="url(#c_lab1263)" xml:space="preserve">1263</text>
<text id="lab1446" transform="translate(1093.70,769.40) rotate(-90) scale(1,1.06)" font-family="Liberation Sans, Arial, sans-serif" font-size="41.8" clip-path="url(#c_lab1446)" xml:space="preserve">1446</text>
<text id="lab1583" transform="translate(1247.00,505.70) rotate(-90) scale(1,1.06)" font-family="Liberation Sans, Arial, sans-serif" font-size="41.8" clip-path="url(#c_lab1583)" xml:space="preserve">1583</text>
<text id="labs1620" transform="translate(1297.70,778.00) rotate(-90) scale(0.975,1.06)" font-family="Liberation Sans, Arial, sans-serif" font-size="41.8" font-weight="bold" clip-path="url(#c_labs1620)" xml:space="preserve">*1620</text>
<text id="lab1384" transform="translate(963.20,106.10) scale(1,1.047)" font-family="Liberation Sans, Arial, sans-serif" font-size="41.3" clip-path="url(#c_lab1384)" xml:space="preserve">1384</text>
</svg>
</body></html>
